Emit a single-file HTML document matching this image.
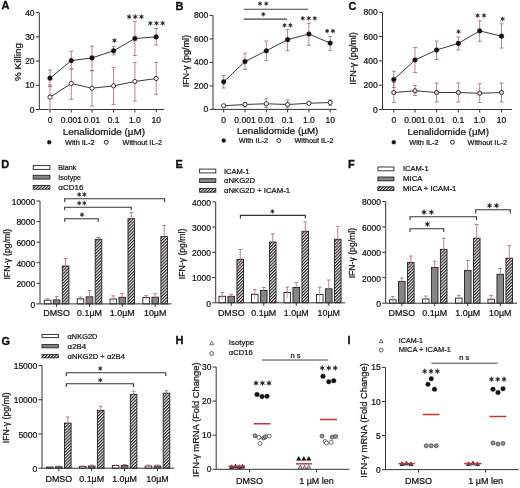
<!DOCTYPE html>
<html><head><meta charset="utf-8"><style>
html,body{margin:0;padding:0;background:#fff;}
svg{display:block;font-family:"Liberation Sans",sans-serif;will-change:transform;}
</style></head><body>
<svg width="520" height="488" viewBox="0 0 520 488">
<defs>
<pattern id="hatch" patternUnits="userSpaceOnUse" width="2.2" height="2.2" patternTransform="rotate(45)">
<rect width="2.2" height="2.2" fill="#fff"/>
<rect x="0" y="0" width="1.12" height="2.2" fill="#1a1a1a"/>
</pattern>
</defs>
<rect width="520" height="488" fill="#fff"/>
<text x="1.40" y="9.30" font-size="11" text-anchor="start" font-weight="bold" fill="#111" stroke="#111" stroke-width="0.35">A</text>
<line x1="39.30" y1="12.70" x2="39.30" y2="109.50" stroke="#333" stroke-width="1.0"/>
<line x1="35.80" y1="109.50" x2="39.30" y2="109.50" stroke="#333" stroke-width="1.0"/>
<text x="34.60" y="112.56" font-size="8.5" text-anchor="end" fill="#111" stroke="#111" stroke-width="0.22">0</text>
<line x1="35.80" y1="85.30" x2="39.30" y2="85.30" stroke="#333" stroke-width="1.0"/>
<text x="34.60" y="88.36" font-size="8.5" text-anchor="end" fill="#111" stroke="#111" stroke-width="0.22">10</text>
<line x1="35.80" y1="61.10" x2="39.30" y2="61.10" stroke="#333" stroke-width="1.0"/>
<text x="34.60" y="64.16" font-size="8.5" text-anchor="end" fill="#111" stroke="#111" stroke-width="0.22">20</text>
<line x1="35.80" y1="36.90" x2="39.30" y2="36.90" stroke="#333" stroke-width="1.0"/>
<text x="34.60" y="39.96" font-size="8.5" text-anchor="end" fill="#111" stroke="#111" stroke-width="0.22">30</text>
<line x1="35.80" y1="12.70" x2="39.30" y2="12.70" stroke="#333" stroke-width="1.0"/>
<text x="34.60" y="15.76" font-size="8.5" text-anchor="end" fill="#111" stroke="#111" stroke-width="0.22">40</text>
<line x1="39.30" y1="109.50" x2="164.00" y2="109.50" stroke="#333" stroke-width="1.0"/>
<line x1="50.00" y1="109.50" x2="50.00" y2="112.50" stroke="#333" stroke-width="1.0"/>
<line x1="71.30" y1="109.50" x2="71.30" y2="112.50" stroke="#333" stroke-width="1.0"/>
<line x1="92.00" y1="109.50" x2="92.00" y2="112.50" stroke="#333" stroke-width="1.0"/>
<line x1="113.60" y1="109.50" x2="113.60" y2="112.50" stroke="#333" stroke-width="1.0"/>
<line x1="134.90" y1="109.50" x2="134.90" y2="112.50" stroke="#333" stroke-width="1.0"/>
<line x1="156.20" y1="109.50" x2="156.20" y2="112.50" stroke="#333" stroke-width="1.0"/>
<text x="50.00" y="122.80" font-size="8.5" text-anchor="middle" fill="#111" stroke="#111" stroke-width="0.22">0</text>
<text x="71.30" y="122.80" font-size="8.5" text-anchor="middle" fill="#111" stroke="#111" stroke-width="0.22">0.001</text>
<text x="92.00" y="122.80" font-size="8.5" text-anchor="middle" fill="#111" stroke="#111" stroke-width="0.22">0.01</text>
<text x="113.60" y="122.80" font-size="8.5" text-anchor="middle" fill="#111" stroke="#111" stroke-width="0.22">0.1</text>
<text x="134.90" y="122.80" font-size="8.5" text-anchor="middle" fill="#111" stroke="#111" stroke-width="0.22">1.0</text>
<text x="156.20" y="122.80" font-size="8.5" text-anchor="middle" fill="#111" stroke="#111" stroke-width="0.22">10</text>
<text x="62.70" y="134.75" font-size="9.3" text-anchor="start" textLength="82.5" lengthAdjust="spacingAndGlyphs" fill="#111" stroke="#111" stroke-width="0.22">Lenalidomide (µM)</text>
<text x="21.40" y="62.00" font-size="9.0" text-anchor="middle" transform="rotate(-90 21.40 62.00)" textLength="38.0" lengthAdjust="spacingAndGlyphs" fill="#111" stroke="#111" stroke-width="0.22">% Killing</text>
<line x1="50.00" y1="85.00" x2="50.00" y2="109.50" stroke="#b56a76" stroke-width="0.85"/>
<line x1="48.00" y1="85.00" x2="52.00" y2="85.00" stroke="#b56a76" stroke-width="0.85"/>
<line x1="48.00" y1="109.50" x2="52.00" y2="109.50" stroke="#b56a76" stroke-width="0.85"/>
<line x1="71.30" y1="69.00" x2="71.30" y2="99.30" stroke="#b56a76" stroke-width="0.85"/>
<line x1="69.30" y1="69.00" x2="73.30" y2="69.00" stroke="#b56a76" stroke-width="0.85"/>
<line x1="69.30" y1="99.30" x2="73.30" y2="99.30" stroke="#b56a76" stroke-width="0.85"/>
<line x1="92.00" y1="70.70" x2="92.00" y2="106.00" stroke="#b56a76" stroke-width="0.85"/>
<line x1="90.00" y1="70.70" x2="94.00" y2="70.70" stroke="#b56a76" stroke-width="0.85"/>
<line x1="90.00" y1="106.00" x2="94.00" y2="106.00" stroke="#b56a76" stroke-width="0.85"/>
<line x1="113.60" y1="67.30" x2="113.60" y2="104.40" stroke="#b56a76" stroke-width="0.85"/>
<line x1="111.60" y1="67.30" x2="115.60" y2="67.30" stroke="#b56a76" stroke-width="0.85"/>
<line x1="111.60" y1="104.40" x2="115.60" y2="104.40" stroke="#b56a76" stroke-width="0.85"/>
<line x1="134.90" y1="62.30" x2="134.90" y2="101.00" stroke="#b56a76" stroke-width="0.85"/>
<line x1="132.90" y1="62.30" x2="136.90" y2="62.30" stroke="#b56a76" stroke-width="0.85"/>
<line x1="132.90" y1="101.00" x2="136.90" y2="101.00" stroke="#b56a76" stroke-width="0.85"/>
<line x1="156.20" y1="62.30" x2="156.20" y2="94.30" stroke="#b56a76" stroke-width="0.85"/>
<line x1="154.20" y1="62.30" x2="158.20" y2="62.30" stroke="#b56a76" stroke-width="0.85"/>
<line x1="154.20" y1="94.30" x2="158.20" y2="94.30" stroke="#b56a76" stroke-width="0.85"/>
<line x1="50.00" y1="70.00" x2="50.00" y2="86.50" stroke="#b56a76" stroke-width="0.85"/>
<line x1="48.00" y1="70.00" x2="52.00" y2="70.00" stroke="#b56a76" stroke-width="0.85"/>
<line x1="48.00" y1="86.50" x2="52.00" y2="86.50" stroke="#b56a76" stroke-width="0.85"/>
<line x1="71.30" y1="51.20" x2="71.30" y2="69.00" stroke="#b56a76" stroke-width="0.85"/>
<line x1="69.30" y1="51.20" x2="73.30" y2="51.20" stroke="#b56a76" stroke-width="0.85"/>
<line x1="69.30" y1="69.00" x2="73.30" y2="69.00" stroke="#b56a76" stroke-width="0.85"/>
<line x1="92.00" y1="46.10" x2="92.00" y2="70.70" stroke="#b56a76" stroke-width="0.85"/>
<line x1="90.00" y1="46.10" x2="94.00" y2="46.10" stroke="#b56a76" stroke-width="0.85"/>
<line x1="90.00" y1="70.70" x2="94.00" y2="70.70" stroke="#b56a76" stroke-width="0.85"/>
<line x1="113.60" y1="46.50" x2="113.60" y2="54.90" stroke="#b56a76" stroke-width="0.85"/>
<line x1="111.60" y1="46.50" x2="115.60" y2="46.50" stroke="#b56a76" stroke-width="0.85"/>
<line x1="111.60" y1="54.90" x2="115.60" y2="54.90" stroke="#b56a76" stroke-width="0.85"/>
<line x1="134.90" y1="21.30" x2="134.90" y2="55.60" stroke="#b56a76" stroke-width="0.85"/>
<line x1="132.90" y1="21.30" x2="136.90" y2="21.30" stroke="#b56a76" stroke-width="0.85"/>
<line x1="132.90" y1="55.60" x2="136.90" y2="55.60" stroke="#b56a76" stroke-width="0.85"/>
<line x1="156.20" y1="28.50" x2="156.20" y2="45.00" stroke="#b56a76" stroke-width="0.85"/>
<line x1="154.20" y1="28.50" x2="158.20" y2="28.50" stroke="#b56a76" stroke-width="0.85"/>
<line x1="154.20" y1="45.00" x2="158.20" y2="45.00" stroke="#b56a76" stroke-width="0.85"/>
<path d="M50.00 97.20 L71.30 83.50 L92.00 88.20 L113.60 85.90 L134.90 81.50 L156.20 78.50" stroke="#222" stroke-width="0.9" fill="none"/>
<path d="M50.00 78.20 L71.30 60.60 L92.00 57.90 L113.60 50.80 L134.90 38.50 L156.20 36.90" stroke="#222" stroke-width="0.9" fill="none"/>
<circle cx="50.00" cy="97.20" r="2.1" fill="#fff" stroke="#222" stroke-width="0.9"/>
<circle cx="71.30" cy="83.50" r="2.1" fill="#fff" stroke="#222" stroke-width="0.9"/>
<circle cx="92.00" cy="88.20" r="2.1" fill="#fff" stroke="#222" stroke-width="0.9"/>
<circle cx="113.60" cy="85.90" r="2.1" fill="#fff" stroke="#222" stroke-width="0.9"/>
<circle cx="134.90" cy="81.50" r="2.1" fill="#fff" stroke="#222" stroke-width="0.9"/>
<circle cx="156.20" cy="78.50" r="2.1" fill="#fff" stroke="#222" stroke-width="0.9"/>
<circle cx="50.00" cy="78.20" r="2.35" fill="#111" stroke="#111" stroke-width="0.4"/>
<circle cx="71.30" cy="60.60" r="2.35" fill="#111" stroke="#111" stroke-width="0.4"/>
<circle cx="92.00" cy="57.90" r="2.35" fill="#111" stroke="#111" stroke-width="0.4"/>
<circle cx="113.60" cy="50.80" r="2.35" fill="#111" stroke="#111" stroke-width="0.4"/>
<circle cx="134.90" cy="38.50" r="2.35" fill="#111" stroke="#111" stroke-width="0.4"/>
<circle cx="156.20" cy="36.90" r="2.35" fill="#111" stroke="#111" stroke-width="0.4"/>
<path d="M114.40 38.02 L113.95 39.73 L112.25 39.26 L113.51 40.50 L112.25 41.74 L113.95 41.27 L114.40 42.98 L114.85 41.27 L116.55 41.74 L115.29 40.50 L116.55 39.26 L114.85 39.73 Z " fill="#1a1a1a" stroke="#1a1a1a" stroke-width="0.35" stroke-linejoin="round"/>
<path d="M129.10 14.27 L128.65 15.98 L126.95 15.51 L128.21 16.75 L126.95 17.99 L128.65 17.52 L129.10 19.23 L129.55 17.52 L131.25 17.99 L129.99 16.75 L131.25 15.51 L129.55 15.98 Z M135.30 14.27 L134.85 15.98 L133.15 15.51 L134.41 16.75 L133.15 17.99 L134.85 17.52 L135.30 19.23 L135.75 17.52 L137.45 17.99 L136.19 16.75 L137.45 15.51 L135.75 15.98 Z M141.50 14.27 L141.05 15.98 L139.35 15.51 L140.61 16.75 L139.35 17.99 L141.05 17.52 L141.50 19.23 L141.95 17.52 L143.65 17.99 L142.39 16.75 L143.65 15.51 L141.95 15.98 Z " fill="#1a1a1a" stroke="#1a1a1a" stroke-width="0.35" stroke-linejoin="round"/>
<path d="M150.30 20.77 L149.85 22.48 L148.15 22.01 L149.41 23.25 L148.15 24.49 L149.85 24.02 L150.30 25.73 L150.75 24.02 L152.45 24.49 L151.19 23.25 L152.45 22.01 L150.75 22.48 Z M156.50 20.77 L156.05 22.48 L154.35 22.01 L155.61 23.25 L154.35 24.49 L156.05 24.02 L156.50 25.73 L156.95 24.02 L158.65 24.49 L157.39 23.25 L158.65 22.01 L156.95 22.48 Z M162.70 20.77 L162.25 22.48 L160.55 22.01 L161.81 23.25 L160.55 24.49 L162.25 24.02 L162.70 25.73 L163.15 24.02 L164.85 24.49 L163.59 23.25 L164.85 22.01 L163.15 22.48 Z " fill="#1a1a1a" stroke="#1a1a1a" stroke-width="0.35" stroke-linejoin="round"/>
<circle cx="49.25" cy="142.25" r="1.9" fill="#111" stroke="#111" stroke-width="0.4"/>
<text x="65.00" y="145.00" font-size="7.3" text-anchor="start" textLength="29.5" lengthAdjust="spacingAndGlyphs" fill="#111" stroke="#111" stroke-width="0.22">With IL-2</text>
<circle cx="106.25" cy="142.25" r="1.95" fill="#fff" stroke="#222" stroke-width="1.0"/>
<text x="122.50" y="145.00" font-size="7.3" text-anchor="start" textLength="39.5" lengthAdjust="spacingAndGlyphs" fill="#111" stroke="#111" stroke-width="0.22">Without IL-2</text>
<text x="175.60" y="9.60" font-size="11" text-anchor="start" font-weight="bold" fill="#111" stroke="#111" stroke-width="0.35">B</text>
<line x1="213.00" y1="15.40" x2="213.00" y2="109.40" stroke="#333" stroke-width="1.0"/>
<line x1="209.50" y1="109.40" x2="213.00" y2="109.40" stroke="#333" stroke-width="1.0"/>
<text x="208.30" y="112.46" font-size="8.5" text-anchor="end" fill="#111" stroke="#111" stroke-width="0.22">0</text>
<line x1="209.50" y1="85.90" x2="213.00" y2="85.90" stroke="#333" stroke-width="1.0"/>
<text x="208.30" y="88.96" font-size="8.5" text-anchor="end" fill="#111" stroke="#111" stroke-width="0.22">200</text>
<line x1="209.50" y1="62.40" x2="213.00" y2="62.40" stroke="#333" stroke-width="1.0"/>
<text x="208.30" y="65.46" font-size="8.5" text-anchor="end" fill="#111" stroke="#111" stroke-width="0.22">400</text>
<line x1="209.50" y1="38.90" x2="213.00" y2="38.90" stroke="#333" stroke-width="1.0"/>
<text x="208.30" y="41.96" font-size="8.5" text-anchor="end" fill="#111" stroke="#111" stroke-width="0.22">600</text>
<line x1="209.50" y1="15.40" x2="213.00" y2="15.40" stroke="#333" stroke-width="1.0"/>
<text x="208.30" y="18.46" font-size="8.5" text-anchor="end" fill="#111" stroke="#111" stroke-width="0.22">800</text>
<line x1="213.00" y1="109.40" x2="336.50" y2="109.40" stroke="#333" stroke-width="1.0"/>
<line x1="223.70" y1="109.40" x2="223.70" y2="112.40" stroke="#333" stroke-width="1.0"/>
<line x1="245.00" y1="109.40" x2="245.00" y2="112.40" stroke="#333" stroke-width="1.0"/>
<line x1="266.30" y1="109.40" x2="266.30" y2="112.40" stroke="#333" stroke-width="1.0"/>
<line x1="287.60" y1="109.40" x2="287.60" y2="112.40" stroke="#333" stroke-width="1.0"/>
<line x1="308.90" y1="109.40" x2="308.90" y2="112.40" stroke="#333" stroke-width="1.0"/>
<line x1="330.20" y1="109.40" x2="330.20" y2="112.40" stroke="#333" stroke-width="1.0"/>
<text x="223.70" y="122.70" font-size="8.5" text-anchor="middle" fill="#111" stroke="#111" stroke-width="0.22">0</text>
<text x="245.00" y="122.70" font-size="8.5" text-anchor="middle" fill="#111" stroke="#111" stroke-width="0.22">0.001</text>
<text x="266.30" y="122.70" font-size="8.5" text-anchor="middle" fill="#111" stroke="#111" stroke-width="0.22">0.01</text>
<text x="287.60" y="122.70" font-size="8.5" text-anchor="middle" fill="#111" stroke="#111" stroke-width="0.22">0.1</text>
<text x="308.90" y="122.70" font-size="8.5" text-anchor="middle" fill="#111" stroke="#111" stroke-width="0.22">1.0</text>
<text x="330.20" y="122.70" font-size="8.5" text-anchor="middle" fill="#111" stroke="#111" stroke-width="0.22">10</text>
<text x="236.90" y="133.50" font-size="9.3" text-anchor="start" textLength="81.5" lengthAdjust="spacingAndGlyphs" fill="#111" stroke="#111" stroke-width="0.22">Lenalidomide (µM)</text>
<text x="189.30" y="61.20" font-size="9.0" text-anchor="middle" transform="rotate(-90 189.30 61.20)" textLength="52.3" lengthAdjust="spacingAndGlyphs" fill="#111" stroke="#111" stroke-width="0.22">IFN-γ (pg/ml)</text>
<line x1="223.70" y1="104.50" x2="223.70" y2="107.00" stroke="#b56a76" stroke-width="0.85"/>
<line x1="221.70" y1="104.50" x2="225.70" y2="104.50" stroke="#b56a76" stroke-width="0.85"/>
<line x1="221.70" y1="107.00" x2="225.70" y2="107.00" stroke="#b56a76" stroke-width="0.85"/>
<line x1="245.00" y1="102.50" x2="245.00" y2="107.00" stroke="#b56a76" stroke-width="0.85"/>
<line x1="243.00" y1="102.50" x2="247.00" y2="102.50" stroke="#b56a76" stroke-width="0.85"/>
<line x1="243.00" y1="107.00" x2="247.00" y2="107.00" stroke="#b56a76" stroke-width="0.85"/>
<line x1="266.30" y1="98.75" x2="266.30" y2="107.50" stroke="#b56a76" stroke-width="0.85"/>
<line x1="264.30" y1="98.75" x2="268.30" y2="98.75" stroke="#b56a76" stroke-width="0.85"/>
<line x1="264.30" y1="107.50" x2="268.30" y2="107.50" stroke="#b56a76" stroke-width="0.85"/>
<line x1="287.60" y1="100.00" x2="287.60" y2="108.00" stroke="#b56a76" stroke-width="0.85"/>
<line x1="285.60" y1="100.00" x2="289.60" y2="100.00" stroke="#b56a76" stroke-width="0.85"/>
<line x1="285.60" y1="108.00" x2="289.60" y2="108.00" stroke="#b56a76" stroke-width="0.85"/>
<line x1="308.90" y1="102.00" x2="308.90" y2="104.50" stroke="#b56a76" stroke-width="0.85"/>
<line x1="306.90" y1="102.00" x2="310.90" y2="102.00" stroke="#b56a76" stroke-width="0.85"/>
<line x1="306.90" y1="104.50" x2="310.90" y2="104.50" stroke="#b56a76" stroke-width="0.85"/>
<line x1="330.20" y1="100.00" x2="330.20" y2="105.50" stroke="#b56a76" stroke-width="0.85"/>
<line x1="328.20" y1="100.00" x2="332.20" y2="100.00" stroke="#b56a76" stroke-width="0.85"/>
<line x1="328.20" y1="105.50" x2="332.20" y2="105.50" stroke="#b56a76" stroke-width="0.85"/>
<line x1="223.70" y1="75.50" x2="223.70" y2="88.00" stroke="#b56a76" stroke-width="0.85"/>
<line x1="221.70" y1="75.50" x2="225.70" y2="75.50" stroke="#b56a76" stroke-width="0.85"/>
<line x1="221.70" y1="88.00" x2="225.70" y2="88.00" stroke="#b56a76" stroke-width="0.85"/>
<line x1="245.00" y1="53.20" x2="245.00" y2="69.50" stroke="#b56a76" stroke-width="0.85"/>
<line x1="243.00" y1="53.20" x2="247.00" y2="53.20" stroke="#b56a76" stroke-width="0.85"/>
<line x1="243.00" y1="69.50" x2="247.00" y2="69.50" stroke="#b56a76" stroke-width="0.85"/>
<line x1="266.30" y1="41.00" x2="266.30" y2="60.60" stroke="#b56a76" stroke-width="0.85"/>
<line x1="264.30" y1="41.00" x2="268.30" y2="41.00" stroke="#b56a76" stroke-width="0.85"/>
<line x1="264.30" y1="60.60" x2="268.30" y2="60.60" stroke="#b56a76" stroke-width="0.85"/>
<line x1="287.60" y1="29.60" x2="287.60" y2="50.60" stroke="#b56a76" stroke-width="0.85"/>
<line x1="285.60" y1="29.60" x2="289.60" y2="29.60" stroke="#b56a76" stroke-width="0.85"/>
<line x1="285.60" y1="50.60" x2="289.60" y2="50.60" stroke="#b56a76" stroke-width="0.85"/>
<line x1="308.90" y1="23.30" x2="308.90" y2="45.30" stroke="#b56a76" stroke-width="0.85"/>
<line x1="306.90" y1="23.30" x2="310.90" y2="23.30" stroke="#b56a76" stroke-width="0.85"/>
<line x1="306.90" y1="45.30" x2="310.90" y2="45.30" stroke="#b56a76" stroke-width="0.85"/>
<line x1="330.20" y1="36.40" x2="330.20" y2="50.60" stroke="#b56a76" stroke-width="0.85"/>
<line x1="328.20" y1="36.40" x2="332.20" y2="36.40" stroke="#b56a76" stroke-width="0.85"/>
<line x1="328.20" y1="50.60" x2="332.20" y2="50.60" stroke="#b56a76" stroke-width="0.85"/>
<path d="M223.70 105.75 L245.00 104.50 L266.30 103.75 L287.60 104.50 L308.90 103.25 L330.20 102.50" stroke="#222" stroke-width="0.9" fill="none"/>
<path d="M223.70 81.80 L245.00 61.60 L266.30 50.80 L287.60 39.70 L308.90 34.00 L330.20 43.10" stroke="#222" stroke-width="0.9" fill="none"/>
<circle cx="223.70" cy="105.75" r="2.1" fill="#fff" stroke="#222" stroke-width="0.9"/>
<circle cx="245.00" cy="104.50" r="2.1" fill="#fff" stroke="#222" stroke-width="0.9"/>
<circle cx="266.30" cy="103.75" r="2.1" fill="#fff" stroke="#222" stroke-width="0.9"/>
<circle cx="287.60" cy="104.50" r="2.1" fill="#fff" stroke="#222" stroke-width="0.9"/>
<circle cx="308.90" cy="103.25" r="2.1" fill="#fff" stroke="#222" stroke-width="0.9"/>
<circle cx="330.20" cy="102.50" r="2.1" fill="#fff" stroke="#222" stroke-width="0.9"/>
<circle cx="223.70" cy="81.80" r="2.35" fill="#111" stroke="#111" stroke-width="0.4"/>
<circle cx="245.00" cy="61.60" r="2.35" fill="#111" stroke="#111" stroke-width="0.4"/>
<circle cx="266.30" cy="50.80" r="2.35" fill="#111" stroke="#111" stroke-width="0.4"/>
<circle cx="287.60" cy="39.70" r="2.35" fill="#111" stroke="#111" stroke-width="0.4"/>
<circle cx="308.90" cy="34.00" r="2.35" fill="#111" stroke="#111" stroke-width="0.4"/>
<circle cx="330.20" cy="43.10" r="2.35" fill="#111" stroke="#111" stroke-width="0.4"/>
<path d="M284.60 22.98 L284.18 24.58 L282.59 24.14 L283.76 25.30 L282.59 26.46 L284.18 26.02 L284.60 27.62 L285.02 26.02 L286.61 26.46 L285.44 25.30 L286.61 24.14 L285.02 24.58 Z M290.40 22.98 L289.98 24.58 L288.39 24.14 L289.56 25.30 L288.39 26.46 L289.98 26.02 L290.40 27.62 L290.82 26.02 L292.41 26.46 L291.24 25.30 L292.41 24.14 L290.82 24.58 Z " fill="#1a1a1a" stroke="#1a1a1a" stroke-width="0.35" stroke-linejoin="round"/>
<path d="M302.80 15.98 L302.38 17.58 L300.79 17.14 L301.96 18.30 L300.79 19.46 L302.38 19.02 L302.80 20.62 L303.22 19.02 L304.81 19.46 L303.64 18.30 L304.81 17.14 L303.22 17.58 Z M308.80 15.98 L308.38 17.58 L306.79 17.14 L307.96 18.30 L306.79 19.46 L308.38 19.02 L308.80 20.62 L309.22 19.02 L310.81 19.46 L309.64 18.30 L310.81 17.14 L309.22 17.58 Z M314.80 15.98 L314.38 17.58 L312.79 17.14 L313.96 18.30 L312.79 19.46 L314.38 19.02 L314.80 20.62 L315.22 19.02 L316.81 19.46 L315.64 18.30 L316.81 17.14 L315.22 17.58 Z " fill="#1a1a1a" stroke="#1a1a1a" stroke-width="0.35" stroke-linejoin="round"/>
<path d="M327.10 28.68 L326.68 30.28 L325.09 29.84 L326.26 31.00 L325.09 32.16 L326.68 31.72 L327.10 33.32 L327.52 31.72 L329.11 32.16 L327.94 31.00 L329.11 29.84 L327.52 30.28 Z M332.90 28.68 L332.48 30.28 L330.89 29.84 L332.06 31.00 L330.89 32.16 L332.48 31.72 L332.90 33.32 L333.32 31.72 L334.91 32.16 L333.74 31.00 L334.91 29.84 L333.32 30.28 Z " fill="#1a1a1a" stroke="#1a1a1a" stroke-width="0.35" stroke-linejoin="round"/>
<circle cx="223.75" cy="140.50" r="1.9" fill="#111" stroke="#111" stroke-width="0.4"/>
<text x="238.75" y="143.00" font-size="7.3" text-anchor="start" textLength="29.25" lengthAdjust="spacingAndGlyphs" fill="#111" stroke="#111" stroke-width="0.22">With IL-2</text>
<circle cx="278.75" cy="140.50" r="1.95" fill="#fff" stroke="#222" stroke-width="1.0"/>
<text x="294.50" y="143.00" font-size="7.3" text-anchor="start" textLength="39.0" lengthAdjust="spacingAndGlyphs" fill="#111" stroke="#111" stroke-width="0.22">Without IL-2</text>
<text x="348.50" y="9.80" font-size="11" text-anchor="start" font-weight="bold" fill="#111" stroke="#111" stroke-width="0.35">C</text>
<line x1="382.50" y1="12.30" x2="382.50" y2="109.50" stroke="#333" stroke-width="1.0"/>
<line x1="379.00" y1="109.50" x2="382.50" y2="109.50" stroke="#333" stroke-width="1.0"/>
<text x="377.80" y="112.56" font-size="8.5" text-anchor="end" fill="#111" stroke="#111" stroke-width="0.22">0</text>
<line x1="379.00" y1="85.20" x2="382.50" y2="85.20" stroke="#333" stroke-width="1.0"/>
<text x="377.80" y="88.26" font-size="8.5" text-anchor="end" fill="#111" stroke="#111" stroke-width="0.22">200</text>
<line x1="379.00" y1="60.90" x2="382.50" y2="60.90" stroke="#333" stroke-width="1.0"/>
<text x="377.80" y="63.96" font-size="8.5" text-anchor="end" fill="#111" stroke="#111" stroke-width="0.22">400</text>
<line x1="379.00" y1="36.60" x2="382.50" y2="36.60" stroke="#333" stroke-width="1.0"/>
<text x="377.80" y="39.66" font-size="8.5" text-anchor="end" fill="#111" stroke="#111" stroke-width="0.22">600</text>
<line x1="379.00" y1="12.30" x2="382.50" y2="12.30" stroke="#333" stroke-width="1.0"/>
<text x="377.80" y="15.36" font-size="8.5" text-anchor="end" fill="#111" stroke="#111" stroke-width="0.22">800</text>
<line x1="382.50" y1="109.50" x2="512.00" y2="109.50" stroke="#333" stroke-width="1.0"/>
<line x1="393.80" y1="109.50" x2="393.80" y2="112.50" stroke="#333" stroke-width="1.0"/>
<line x1="415.00" y1="109.50" x2="415.00" y2="112.50" stroke="#333" stroke-width="1.0"/>
<line x1="436.60" y1="109.50" x2="436.60" y2="112.50" stroke="#333" stroke-width="1.0"/>
<line x1="458.30" y1="109.50" x2="458.30" y2="112.50" stroke="#333" stroke-width="1.0"/>
<line x1="479.70" y1="109.50" x2="479.70" y2="112.50" stroke="#333" stroke-width="1.0"/>
<line x1="501.50" y1="109.50" x2="501.50" y2="112.50" stroke="#333" stroke-width="1.0"/>
<text x="393.80" y="122.80" font-size="8.5" text-anchor="middle" fill="#111" stroke="#111" stroke-width="0.22">0</text>
<text x="415.00" y="122.80" font-size="8.5" text-anchor="middle" fill="#111" stroke="#111" stroke-width="0.22">0.001</text>
<text x="436.60" y="122.80" font-size="8.5" text-anchor="middle" fill="#111" stroke="#111" stroke-width="0.22">0.01</text>
<text x="458.30" y="122.80" font-size="8.5" text-anchor="middle" fill="#111" stroke="#111" stroke-width="0.22">0.1</text>
<text x="479.70" y="122.80" font-size="8.5" text-anchor="middle" fill="#111" stroke="#111" stroke-width="0.22">1.0</text>
<text x="501.50" y="122.80" font-size="8.5" text-anchor="middle" fill="#111" stroke="#111" stroke-width="0.22">10</text>
<text x="407.50" y="134.75" font-size="9.3" text-anchor="start" textLength="81.5" lengthAdjust="spacingAndGlyphs" fill="#111" stroke="#111" stroke-width="0.22">Lenalidomide (µM)</text>
<text x="356.10" y="58.50" font-size="9.0" text-anchor="middle" transform="rotate(-90 356.10 58.50)" textLength="52.5" lengthAdjust="spacingAndGlyphs" fill="#111" stroke="#111" stroke-width="0.22">IFN-γ (pg/ml)</text>
<line x1="393.80" y1="82.50" x2="393.80" y2="102.50" stroke="#b56a76" stroke-width="0.85"/>
<line x1="391.80" y1="82.50" x2="395.80" y2="82.50" stroke="#b56a76" stroke-width="0.85"/>
<line x1="391.80" y1="102.50" x2="395.80" y2="102.50" stroke="#b56a76" stroke-width="0.85"/>
<line x1="415.00" y1="85.50" x2="415.00" y2="95.50" stroke="#b56a76" stroke-width="0.85"/>
<line x1="413.00" y1="85.50" x2="417.00" y2="85.50" stroke="#b56a76" stroke-width="0.85"/>
<line x1="413.00" y1="95.50" x2="417.00" y2="95.50" stroke="#b56a76" stroke-width="0.85"/>
<line x1="436.60" y1="83.00" x2="436.60" y2="102.00" stroke="#b56a76" stroke-width="0.85"/>
<line x1="434.60" y1="83.00" x2="438.60" y2="83.00" stroke="#b56a76" stroke-width="0.85"/>
<line x1="434.60" y1="102.00" x2="438.60" y2="102.00" stroke="#b56a76" stroke-width="0.85"/>
<line x1="458.30" y1="83.00" x2="458.30" y2="102.00" stroke="#b56a76" stroke-width="0.85"/>
<line x1="456.30" y1="83.00" x2="460.30" y2="83.00" stroke="#b56a76" stroke-width="0.85"/>
<line x1="456.30" y1="102.00" x2="460.30" y2="102.00" stroke="#b56a76" stroke-width="0.85"/>
<line x1="479.70" y1="83.75" x2="479.70" y2="102.50" stroke="#b56a76" stroke-width="0.85"/>
<line x1="477.70" y1="83.75" x2="481.70" y2="83.75" stroke="#b56a76" stroke-width="0.85"/>
<line x1="477.70" y1="102.50" x2="481.70" y2="102.50" stroke="#b56a76" stroke-width="0.85"/>
<line x1="501.50" y1="83.00" x2="501.50" y2="102.00" stroke="#b56a76" stroke-width="0.85"/>
<line x1="499.50" y1="83.00" x2="503.50" y2="83.00" stroke="#b56a76" stroke-width="0.85"/>
<line x1="499.50" y1="102.00" x2="503.50" y2="102.00" stroke="#b56a76" stroke-width="0.85"/>
<line x1="393.80" y1="71.25" x2="393.80" y2="87.50" stroke="#b56a76" stroke-width="0.85"/>
<line x1="391.80" y1="71.25" x2="395.80" y2="71.25" stroke="#b56a76" stroke-width="0.85"/>
<line x1="391.80" y1="87.50" x2="395.80" y2="87.50" stroke="#b56a76" stroke-width="0.85"/>
<line x1="415.00" y1="47.50" x2="415.00" y2="72.50" stroke="#b56a76" stroke-width="0.85"/>
<line x1="413.00" y1="47.50" x2="417.00" y2="47.50" stroke="#b56a76" stroke-width="0.85"/>
<line x1="413.00" y1="72.50" x2="417.00" y2="72.50" stroke="#b56a76" stroke-width="0.85"/>
<line x1="436.60" y1="41.00" x2="436.60" y2="59.50" stroke="#b56a76" stroke-width="0.85"/>
<line x1="434.60" y1="41.00" x2="438.60" y2="41.00" stroke="#b56a76" stroke-width="0.85"/>
<line x1="434.60" y1="59.50" x2="438.60" y2="59.50" stroke="#b56a76" stroke-width="0.85"/>
<line x1="458.30" y1="36.90" x2="458.30" y2="50.00" stroke="#b56a76" stroke-width="0.85"/>
<line x1="456.30" y1="36.90" x2="460.30" y2="36.90" stroke="#b56a76" stroke-width="0.85"/>
<line x1="456.30" y1="50.00" x2="460.30" y2="50.00" stroke="#b56a76" stroke-width="0.85"/>
<line x1="479.70" y1="20.90" x2="479.70" y2="41.25" stroke="#b56a76" stroke-width="0.85"/>
<line x1="477.70" y1="20.90" x2="481.70" y2="20.90" stroke="#b56a76" stroke-width="0.85"/>
<line x1="477.70" y1="41.25" x2="481.70" y2="41.25" stroke="#b56a76" stroke-width="0.85"/>
<line x1="501.50" y1="23.80" x2="501.50" y2="48.00" stroke="#b56a76" stroke-width="0.85"/>
<line x1="499.50" y1="23.80" x2="503.50" y2="23.80" stroke="#b56a76" stroke-width="0.85"/>
<line x1="499.50" y1="48.00" x2="503.50" y2="48.00" stroke="#b56a76" stroke-width="0.85"/>
<path d="M393.80 92.50 L415.00 90.75 L436.60 92.50 L458.30 92.50 L479.70 93.25 L501.50 92.50" stroke="#222" stroke-width="0.9" fill="none"/>
<path d="M393.80 79.50 L415.00 60.00 L436.60 50.00 L458.30 43.40 L479.70 30.90 L501.50 36.20" stroke="#222" stroke-width="0.9" fill="none"/>
<circle cx="393.80" cy="92.50" r="2.1" fill="#e2d0d3" stroke="#222" stroke-width="0.9"/>
<circle cx="415.00" cy="90.75" r="2.1" fill="#e2d0d3" stroke="#222" stroke-width="0.9"/>
<circle cx="436.60" cy="92.50" r="2.1" fill="#e2d0d3" stroke="#222" stroke-width="0.9"/>
<circle cx="458.30" cy="92.50" r="2.1" fill="#e2d0d3" stroke="#222" stroke-width="0.9"/>
<circle cx="479.70" cy="93.25" r="2.1" fill="#e2d0d3" stroke="#222" stroke-width="0.9"/>
<circle cx="501.50" cy="92.50" r="2.1" fill="#e2d0d3" stroke="#222" stroke-width="0.9"/>
<circle cx="393.80" cy="79.50" r="2.35" fill="#111" stroke="#111" stroke-width="0.4"/>
<circle cx="415.00" cy="60.00" r="2.35" fill="#111" stroke="#111" stroke-width="0.4"/>
<circle cx="436.60" cy="50.00" r="2.35" fill="#111" stroke="#111" stroke-width="0.4"/>
<circle cx="458.30" cy="43.40" r="2.35" fill="#111" stroke="#111" stroke-width="0.4"/>
<circle cx="479.70" cy="30.90" r="2.35" fill="#111" stroke="#111" stroke-width="0.4"/>
<circle cx="501.50" cy="36.20" r="2.35" fill="#111" stroke="#111" stroke-width="0.4"/>
<path d="M458.50 29.28 L458.08 30.88 L456.49 30.44 L457.66 31.60 L456.49 32.76 L458.08 32.32 L458.50 33.92 L458.92 32.32 L460.51 32.76 L459.34 31.60 L460.51 30.44 L458.92 30.88 Z " fill="#1a1a1a" stroke="#1a1a1a" stroke-width="0.35" stroke-linejoin="round"/>
<path d="M477.60 13.18 L477.18 14.78 L475.59 14.34 L476.76 15.50 L475.59 16.66 L477.18 16.22 L477.60 17.82 L478.02 16.22 L479.61 16.66 L478.44 15.50 L479.61 14.34 L478.02 14.78 Z M484.00 13.18 L483.58 14.78 L481.99 14.34 L483.16 15.50 L481.99 16.66 L483.58 16.22 L484.00 17.82 L484.42 16.22 L486.01 16.66 L484.84 15.50 L486.01 14.34 L484.42 14.78 Z " fill="#1a1a1a" stroke="#1a1a1a" stroke-width="0.35" stroke-linejoin="round"/>
<path d="M502.60 16.58 L502.18 18.18 L500.59 17.74 L501.76 18.90 L500.59 20.06 L502.18 19.62 L502.60 21.22 L503.02 19.62 L504.61 20.06 L503.44 18.90 L504.61 17.74 L503.02 18.18 Z " fill="#1a1a1a" stroke="#1a1a1a" stroke-width="0.35" stroke-linejoin="round"/>
<circle cx="393.75" cy="142.25" r="1.9" fill="#111" stroke="#111" stroke-width="0.4"/>
<text x="409.25" y="145.00" font-size="7.3" text-anchor="start" textLength="29.25" lengthAdjust="spacingAndGlyphs" fill="#111" stroke="#111" stroke-width="0.22">With IL-2</text>
<circle cx="452.50" cy="142.25" r="1.95" fill="#fff" stroke="#222" stroke-width="1.0"/>
<text x="467.50" y="145.00" font-size="7.3" text-anchor="start" textLength="39.5" lengthAdjust="spacingAndGlyphs" fill="#111" stroke="#111" stroke-width="0.22">Without IL-2</text>
<line x1="243.80" y1="9.20" x2="308.10" y2="9.20" stroke="#444" stroke-width="1.1"/>
<path d="M260.00 1.33 L259.59 2.89 L258.04 2.47 L259.18 3.60 L258.04 4.73 L259.59 4.31 L260.00 5.87 L260.41 4.31 L261.96 4.73 L260.82 3.60 L261.96 2.47 L260.41 2.89 Z M266.20 1.33 L265.79 2.89 L264.24 2.47 L265.38 3.60 L264.24 4.73 L265.79 4.31 L266.20 5.87 L266.61 4.31 L268.16 4.73 L267.02 3.60 L268.16 2.47 L266.61 2.89 Z " fill="#1a1a1a" stroke="#1a1a1a" stroke-width="0.35" stroke-linejoin="round"/>
<line x1="243.80" y1="19.10" x2="286.90" y2="19.10" stroke="#444" stroke-width="1.1"/>
<path d="M263.30 11.93 L262.89 13.49 L261.34 13.07 L262.48 14.20 L261.34 15.33 L262.89 14.91 L263.30 16.47 L263.71 14.91 L265.26 15.33 L264.12 14.20 L265.26 13.07 L263.71 13.49 Z " fill="#1a1a1a" stroke="#1a1a1a" stroke-width="0.35" stroke-linejoin="round"/>
<text x="1.20" y="167.80" font-size="11" text-anchor="start" font-weight="bold" fill="#111" stroke="#111" stroke-width="0.35">D</text>
<line x1="40.00" y1="201.00" x2="40.00" y2="303.90" stroke="#333" stroke-width="1.0"/>
<line x1="36.50" y1="303.90" x2="40.00" y2="303.90" stroke="#333" stroke-width="1.0"/>
<text x="35.30" y="307.66" font-size="8.5" text-anchor="end" fill="#111" stroke="#111" stroke-width="0.22">0</text>
<line x1="36.50" y1="283.32" x2="40.00" y2="283.32" stroke="#333" stroke-width="1.0"/>
<text x="35.30" y="287.08" font-size="8.5" text-anchor="end" fill="#111" stroke="#111" stroke-width="0.22">2000</text>
<line x1="36.50" y1="262.74" x2="40.00" y2="262.74" stroke="#333" stroke-width="1.0"/>
<text x="35.30" y="266.50" font-size="8.5" text-anchor="end" fill="#111" stroke="#111" stroke-width="0.22">4000</text>
<line x1="36.50" y1="242.16" x2="40.00" y2="242.16" stroke="#333" stroke-width="1.0"/>
<text x="35.30" y="245.92" font-size="8.5" text-anchor="end" fill="#111" stroke="#111" stroke-width="0.22">6000</text>
<line x1="36.50" y1="221.58" x2="40.00" y2="221.58" stroke="#333" stroke-width="1.0"/>
<text x="35.30" y="225.34" font-size="8.5" text-anchor="end" fill="#111" stroke="#111" stroke-width="0.22">8000</text>
<line x1="36.50" y1="201.00" x2="40.00" y2="201.00" stroke="#333" stroke-width="1.0"/>
<text x="35.30" y="204.76" font-size="8.5" text-anchor="end" fill="#111" stroke="#111" stroke-width="0.22">10000</text>
<text x="9.80" y="254.20" font-size="9.0" text-anchor="middle" transform="rotate(-90 9.80 254.20)" textLength="50.8" lengthAdjust="spacingAndGlyphs" fill="#111" stroke="#111" stroke-width="0.22">IFN-γ (pg/ml)</text>
<rect x="44.30" y="300.20" width="6.60" height="3.70" fill="#fff" stroke="#222" stroke-width="0.9"/>
<rect x="53.30" y="299.90" width="6.60" height="4.00" fill="#858585" stroke="#222" stroke-width="0.9"/>
<rect x="62.30" y="266.00" width="6.60" height="37.90" fill="url(#hatch)" stroke="#222" stroke-width="0.9"/>
<rect x="77.20" y="298.80" width="6.60" height="5.10" fill="#fff" stroke="#222" stroke-width="0.9"/>
<rect x="86.20" y="296.80" width="6.60" height="7.10" fill="#858585" stroke="#222" stroke-width="0.9"/>
<rect x="95.20" y="239.30" width="6.60" height="64.60" fill="url(#hatch)" stroke="#222" stroke-width="0.9"/>
<rect x="110.00" y="299.00" width="6.60" height="4.90" fill="#fff" stroke="#222" stroke-width="0.9"/>
<rect x="119.00" y="297.30" width="6.60" height="6.60" fill="#858585" stroke="#222" stroke-width="0.9"/>
<rect x="128.00" y="218.70" width="6.60" height="85.20" fill="url(#hatch)" stroke="#222" stroke-width="0.9"/>
<rect x="142.90" y="297.40" width="6.60" height="6.50" fill="#fff" stroke="#222" stroke-width="0.9"/>
<rect x="151.90" y="297.20" width="6.60" height="6.70" fill="#858585" stroke="#222" stroke-width="0.9"/>
<rect x="160.90" y="236.60" width="6.60" height="67.30" fill="url(#hatch)" stroke="#222" stroke-width="0.9"/>
<line x1="47.60" y1="298.80" x2="47.60" y2="300.20" stroke="#b56a76" stroke-width="0.85"/>
<line x1="47.60" y1="300.20" x2="47.60" y2="301.60" stroke="#b56a76" stroke-width="0.85" opacity="0.7"/>
<line x1="45.70" y1="298.80" x2="49.50" y2="298.80" stroke="#b56a76" stroke-width="0.85"/>
<line x1="56.60" y1="296.40" x2="56.60" y2="299.90" stroke="#b56a76" stroke-width="0.85"/>
<line x1="56.60" y1="299.90" x2="56.60" y2="303.40" stroke="#b56a76" stroke-width="0.85" opacity="0.7"/>
<line x1="54.70" y1="296.40" x2="58.50" y2="296.40" stroke="#b56a76" stroke-width="0.85"/>
<line x1="65.60" y1="258.60" x2="65.60" y2="266.00" stroke="#b56a76" stroke-width="0.85"/>
<line x1="65.60" y1="266.00" x2="65.60" y2="273.40" stroke="#b56a76" stroke-width="0.85" opacity="0.7"/>
<line x1="63.70" y1="258.60" x2="67.50" y2="258.60" stroke="#b56a76" stroke-width="0.85"/>
<line x1="80.50" y1="297.00" x2="80.50" y2="298.80" stroke="#b56a76" stroke-width="0.85"/>
<line x1="80.50" y1="298.80" x2="80.50" y2="300.60" stroke="#b56a76" stroke-width="0.85" opacity="0.7"/>
<line x1="78.60" y1="297.00" x2="82.40" y2="297.00" stroke="#b56a76" stroke-width="0.85"/>
<line x1="89.50" y1="290.50" x2="89.50" y2="296.80" stroke="#b56a76" stroke-width="0.85"/>
<line x1="89.50" y1="296.80" x2="89.50" y2="303.10" stroke="#b56a76" stroke-width="0.85" opacity="0.7"/>
<line x1="87.60" y1="290.50" x2="91.40" y2="290.50" stroke="#b56a76" stroke-width="0.85"/>
<line x1="98.50" y1="237.50" x2="98.50" y2="239.30" stroke="#b56a76" stroke-width="0.85"/>
<line x1="98.50" y1="239.30" x2="98.50" y2="241.10" stroke="#b56a76" stroke-width="0.85" opacity="0.7"/>
<line x1="96.60" y1="237.50" x2="100.40" y2="237.50" stroke="#b56a76" stroke-width="0.85"/>
<line x1="113.30" y1="295.80" x2="113.30" y2="299.00" stroke="#b56a76" stroke-width="0.85"/>
<line x1="113.30" y1="299.00" x2="113.30" y2="302.20" stroke="#b56a76" stroke-width="0.85" opacity="0.7"/>
<line x1="111.40" y1="295.80" x2="115.20" y2="295.80" stroke="#b56a76" stroke-width="0.85"/>
<line x1="122.30" y1="293.50" x2="122.30" y2="297.30" stroke="#b56a76" stroke-width="0.85"/>
<line x1="122.30" y1="297.30" x2="122.30" y2="301.10" stroke="#b56a76" stroke-width="0.85" opacity="0.7"/>
<line x1="120.40" y1="293.50" x2="124.20" y2="293.50" stroke="#b56a76" stroke-width="0.85"/>
<line x1="131.30" y1="212.50" x2="131.30" y2="218.70" stroke="#b56a76" stroke-width="0.85"/>
<line x1="131.30" y1="218.70" x2="131.30" y2="224.90" stroke="#b56a76" stroke-width="0.85" opacity="0.7"/>
<line x1="129.40" y1="212.50" x2="133.20" y2="212.50" stroke="#b56a76" stroke-width="0.85"/>
<line x1="146.20" y1="295.50" x2="146.20" y2="297.40" stroke="#b56a76" stroke-width="0.85"/>
<line x1="146.20" y1="297.40" x2="146.20" y2="299.30" stroke="#b56a76" stroke-width="0.85" opacity="0.7"/>
<line x1="144.30" y1="295.50" x2="148.10" y2="295.50" stroke="#b56a76" stroke-width="0.85"/>
<line x1="155.20" y1="293.70" x2="155.20" y2="297.20" stroke="#b56a76" stroke-width="0.85"/>
<line x1="155.20" y1="297.20" x2="155.20" y2="300.70" stroke="#b56a76" stroke-width="0.85" opacity="0.7"/>
<line x1="153.30" y1="293.70" x2="157.10" y2="293.70" stroke="#b56a76" stroke-width="0.85"/>
<line x1="164.20" y1="225.60" x2="164.20" y2="236.60" stroke="#b56a76" stroke-width="0.85"/>
<line x1="164.20" y1="236.60" x2="164.20" y2="247.60" stroke="#b56a76" stroke-width="0.85" opacity="0.7"/>
<line x1="162.30" y1="225.60" x2="166.10" y2="225.60" stroke="#b56a76" stroke-width="0.85"/>
<line x1="40.00" y1="303.90" x2="171.50" y2="303.90" stroke="#333" stroke-width="1.0"/>
<line x1="56.60" y1="303.90" x2="56.60" y2="306.90" stroke="#333" stroke-width="1.0"/>
<line x1="89.50" y1="303.90" x2="89.50" y2="306.90" stroke="#333" stroke-width="1.0"/>
<line x1="122.30" y1="303.90" x2="122.30" y2="306.90" stroke="#333" stroke-width="1.0"/>
<line x1="155.20" y1="303.90" x2="155.20" y2="306.90" stroke="#333" stroke-width="1.0"/>
<text x="56.60" y="316.30" font-size="8.9" text-anchor="middle" fill="#111" stroke="#111" stroke-width="0.22">DMSO</text>
<text x="89.50" y="316.30" font-size="8.9" text-anchor="middle" fill="#111" stroke="#111" stroke-width="0.22">0.1µM</text>
<text x="122.30" y="316.30" font-size="8.9" text-anchor="middle" fill="#111" stroke="#111" stroke-width="0.22">1.0µM</text>
<text x="155.20" y="316.30" font-size="8.9" text-anchor="middle" fill="#111" stroke="#111" stroke-width="0.22">10µM</text>
<rect x="33.20" y="165.60" width="16.70" height="3.80" fill="#fff" stroke="#222" stroke-width="0.9"/>
<text x="58.30" y="170.00" font-size="7.6" text-anchor="start" textLength="18.0" lengthAdjust="spacingAndGlyphs" fill="#111" stroke="#111" stroke-width="0.22">Blank</text>
<rect x="33.20" y="175.30" width="16.70" height="3.80" fill="#858585" stroke="#222" stroke-width="0.9"/>
<text x="58.30" y="179.70" font-size="7.6" text-anchor="start" textLength="22.7" lengthAdjust="spacingAndGlyphs" fill="#111" stroke="#111" stroke-width="0.22">Isotype</text>
<rect x="33.20" y="185.40" width="16.70" height="3.80" fill="url(#hatch)" stroke="#222" stroke-width="0.9"/>
<text x="58.30" y="189.80" font-size="7.6" text-anchor="start" textLength="25.1" lengthAdjust="spacingAndGlyphs" fill="#111" stroke="#111" stroke-width="0.22">αCD16</text>
<path d="M64.70 202.00 V198.80 H164.60 V202.00" stroke="#333" stroke-width="1.1" fill="none"/>
<path d="M64.70 210.30 V207.30 H131.20 V210.30" stroke="#333" stroke-width="1.1" fill="none"/>
<path d="M64.70 221.80 V218.80 H98.20 V221.80" stroke="#333" stroke-width="1.1" fill="none"/>
<path d="M79.15 192.18 L78.73 193.78 L77.14 193.34 L78.31 194.50 L77.14 195.66 L78.73 195.22 L79.15 196.82 L79.57 195.22 L81.16 195.66 L79.99 194.50 L81.16 193.34 L79.57 193.78 Z M84.35 192.18 L83.93 193.78 L82.34 193.34 L83.51 194.50 L82.34 195.66 L83.93 195.22 L84.35 196.82 L84.77 195.22 L86.36 195.66 L85.19 194.50 L86.36 193.34 L84.77 193.78 Z " fill="#1a1a1a" stroke="#1a1a1a" stroke-width="0.35" stroke-linejoin="round"/>
<path d="M79.15 200.78 L78.73 202.38 L77.14 201.94 L78.31 203.10 L77.14 204.26 L78.73 203.82 L79.15 205.42 L79.57 203.82 L81.16 204.26 L79.99 203.10 L81.16 201.94 L79.57 202.38 Z M84.35 200.78 L83.93 202.38 L82.34 201.94 L83.51 203.10 L82.34 204.26 L83.93 203.82 L84.35 205.42 L84.77 203.82 L86.36 204.26 L85.19 203.10 L86.36 201.94 L84.77 202.38 Z " fill="#1a1a1a" stroke="#1a1a1a" stroke-width="0.35" stroke-linejoin="round"/>
<path d="M82.00 212.38 L81.58 213.98 L79.99 213.54 L81.16 214.70 L79.99 215.86 L81.58 215.42 L82.00 217.02 L82.42 215.42 L84.01 215.86 L82.84 214.70 L84.01 213.54 L82.42 213.98 Z " fill="#1a1a1a" stroke="#1a1a1a" stroke-width="0.35" stroke-linejoin="round"/>
<text x="175.40" y="167.70" font-size="11" text-anchor="start" font-weight="bold" fill="#111" stroke="#111" stroke-width="0.35">E</text>
<line x1="215.70" y1="201.90" x2="215.70" y2="302.80" stroke="#333" stroke-width="1.0"/>
<line x1="212.20" y1="302.80" x2="215.70" y2="302.80" stroke="#333" stroke-width="1.0"/>
<text x="211.00" y="306.56" font-size="8.5" text-anchor="end" fill="#111" stroke="#111" stroke-width="0.22">0</text>
<line x1="212.20" y1="277.57" x2="215.70" y2="277.57" stroke="#333" stroke-width="1.0"/>
<text x="211.00" y="281.33" font-size="8.5" text-anchor="end" fill="#111" stroke="#111" stroke-width="0.22">1000</text>
<line x1="212.20" y1="252.35" x2="215.70" y2="252.35" stroke="#333" stroke-width="1.0"/>
<text x="211.00" y="256.11" font-size="8.5" text-anchor="end" fill="#111" stroke="#111" stroke-width="0.22">2000</text>
<line x1="212.20" y1="227.12" x2="215.70" y2="227.12" stroke="#333" stroke-width="1.0"/>
<text x="211.00" y="230.88" font-size="8.5" text-anchor="end" fill="#111" stroke="#111" stroke-width="0.22">3000</text>
<line x1="212.20" y1="201.90" x2="215.70" y2="201.90" stroke="#333" stroke-width="1.0"/>
<text x="211.00" y="205.66" font-size="8.5" text-anchor="end" fill="#111" stroke="#111" stroke-width="0.22">4000</text>
<text x="185.00" y="253.90" font-size="9.0" text-anchor="middle" transform="rotate(-90 185.00 253.90)" textLength="50.5" lengthAdjust="spacingAndGlyphs" fill="#111" stroke="#111" stroke-width="0.22">IFN-γ (pg/ml)</text>
<rect x="218.95" y="296.30" width="6.60" height="6.50" fill="#fff" stroke="#222" stroke-width="0.9"/>
<rect x="227.95" y="296.30" width="6.60" height="6.50" fill="#858585" stroke="#222" stroke-width="0.9"/>
<rect x="236.95" y="259.30" width="6.60" height="43.50" fill="url(#hatch)" stroke="#222" stroke-width="0.9"/>
<rect x="251.45" y="294.30" width="6.60" height="8.50" fill="#fff" stroke="#222" stroke-width="0.9"/>
<rect x="260.45" y="290.50" width="6.60" height="12.30" fill="#858585" stroke="#222" stroke-width="0.9"/>
<rect x="269.45" y="242.00" width="6.60" height="60.80" fill="url(#hatch)" stroke="#222" stroke-width="0.9"/>
<rect x="283.95" y="292.50" width="6.60" height="10.30" fill="#fff" stroke="#222" stroke-width="0.9"/>
<rect x="292.95" y="287.50" width="6.60" height="15.30" fill="#858585" stroke="#222" stroke-width="0.9"/>
<rect x="301.95" y="231.30" width="6.60" height="71.50" fill="url(#hatch)" stroke="#222" stroke-width="0.9"/>
<rect x="316.45" y="294.50" width="6.60" height="8.30" fill="#fff" stroke="#222" stroke-width="0.9"/>
<rect x="325.45" y="288.80" width="6.60" height="14.00" fill="#858585" stroke="#222" stroke-width="0.9"/>
<rect x="334.45" y="239.30" width="6.60" height="63.50" fill="url(#hatch)" stroke="#222" stroke-width="0.9"/>
<line x1="222.25" y1="292.50" x2="222.25" y2="296.30" stroke="#b56a76" stroke-width="0.85"/>
<line x1="222.25" y1="296.30" x2="222.25" y2="300.10" stroke="#b56a76" stroke-width="0.85" opacity="0.7"/>
<line x1="220.35" y1="292.50" x2="224.15" y2="292.50" stroke="#b56a76" stroke-width="0.85"/>
<line x1="231.25" y1="294.30" x2="231.25" y2="296.30" stroke="#b56a76" stroke-width="0.85"/>
<line x1="231.25" y1="296.30" x2="231.25" y2="298.30" stroke="#b56a76" stroke-width="0.85" opacity="0.7"/>
<line x1="229.35" y1="294.30" x2="233.15" y2="294.30" stroke="#b56a76" stroke-width="0.85"/>
<line x1="240.25" y1="249.50" x2="240.25" y2="259.30" stroke="#b56a76" stroke-width="0.85"/>
<line x1="240.25" y1="259.30" x2="240.25" y2="269.10" stroke="#b56a76" stroke-width="0.85" opacity="0.7"/>
<line x1="238.35" y1="249.50" x2="242.15" y2="249.50" stroke="#b56a76" stroke-width="0.85"/>
<line x1="254.75" y1="289.50" x2="254.75" y2="294.30" stroke="#b56a76" stroke-width="0.85"/>
<line x1="254.75" y1="294.30" x2="254.75" y2="299.10" stroke="#b56a76" stroke-width="0.85" opacity="0.7"/>
<line x1="252.85" y1="289.50" x2="256.65" y2="289.50" stroke="#b56a76" stroke-width="0.85"/>
<line x1="263.75" y1="287.50" x2="263.75" y2="290.50" stroke="#b56a76" stroke-width="0.85"/>
<line x1="263.75" y1="290.50" x2="263.75" y2="293.50" stroke="#b56a76" stroke-width="0.85" opacity="0.7"/>
<line x1="261.85" y1="287.50" x2="265.65" y2="287.50" stroke="#b56a76" stroke-width="0.85"/>
<line x1="272.75" y1="233.80" x2="272.75" y2="242.00" stroke="#b56a76" stroke-width="0.85"/>
<line x1="272.75" y1="242.00" x2="272.75" y2="250.20" stroke="#b56a76" stroke-width="0.85" opacity="0.7"/>
<line x1="270.85" y1="233.80" x2="274.65" y2="233.80" stroke="#b56a76" stroke-width="0.85"/>
<line x1="287.25" y1="287.00" x2="287.25" y2="292.50" stroke="#b56a76" stroke-width="0.85"/>
<line x1="287.25" y1="292.50" x2="287.25" y2="298.00" stroke="#b56a76" stroke-width="0.85" opacity="0.7"/>
<line x1="285.35" y1="287.00" x2="289.15" y2="287.00" stroke="#b56a76" stroke-width="0.85"/>
<line x1="296.25" y1="282.50" x2="296.25" y2="287.50" stroke="#b56a76" stroke-width="0.85"/>
<line x1="296.25" y1="287.50" x2="296.25" y2="292.50" stroke="#b56a76" stroke-width="0.85" opacity="0.7"/>
<line x1="294.35" y1="282.50" x2="298.15" y2="282.50" stroke="#b56a76" stroke-width="0.85"/>
<line x1="305.25" y1="222.00" x2="305.25" y2="231.30" stroke="#b56a76" stroke-width="0.85"/>
<line x1="305.25" y1="231.30" x2="305.25" y2="240.60" stroke="#b56a76" stroke-width="0.85" opacity="0.7"/>
<line x1="303.35" y1="222.00" x2="307.15" y2="222.00" stroke="#b56a76" stroke-width="0.85"/>
<line x1="319.75" y1="287.00" x2="319.75" y2="294.50" stroke="#b56a76" stroke-width="0.85"/>
<line x1="319.75" y1="294.50" x2="319.75" y2="302.00" stroke="#b56a76" stroke-width="0.85" opacity="0.7"/>
<line x1="317.85" y1="287.00" x2="321.65" y2="287.00" stroke="#b56a76" stroke-width="0.85"/>
<line x1="328.75" y1="280.00" x2="328.75" y2="288.80" stroke="#b56a76" stroke-width="0.85"/>
<line x1="328.75" y1="288.80" x2="328.75" y2="297.60" stroke="#b56a76" stroke-width="0.85" opacity="0.7"/>
<line x1="326.85" y1="280.00" x2="330.65" y2="280.00" stroke="#b56a76" stroke-width="0.85"/>
<line x1="337.75" y1="226.30" x2="337.75" y2="239.30" stroke="#b56a76" stroke-width="0.85"/>
<line x1="337.75" y1="239.30" x2="337.75" y2="252.30" stroke="#b56a76" stroke-width="0.85" opacity="0.7"/>
<line x1="335.85" y1="226.30" x2="339.65" y2="226.30" stroke="#b56a76" stroke-width="0.85"/>
<line x1="215.70" y1="302.80" x2="345.00" y2="302.80" stroke="#333" stroke-width="1.0"/>
<line x1="231.25" y1="302.80" x2="231.25" y2="305.80" stroke="#333" stroke-width="1.0"/>
<line x1="263.75" y1="302.80" x2="263.75" y2="305.80" stroke="#333" stroke-width="1.0"/>
<line x1="296.25" y1="302.80" x2="296.25" y2="305.80" stroke="#333" stroke-width="1.0"/>
<line x1="328.75" y1="302.80" x2="328.75" y2="305.80" stroke="#333" stroke-width="1.0"/>
<text x="231.25" y="316.30" font-size="8.9" text-anchor="middle" fill="#111" stroke="#111" stroke-width="0.22">DMSO</text>
<text x="263.75" y="316.30" font-size="8.9" text-anchor="middle" fill="#111" stroke="#111" stroke-width="0.22">0.1µM</text>
<text x="296.25" y="316.30" font-size="8.9" text-anchor="middle" fill="#111" stroke="#111" stroke-width="0.22">1.0µM</text>
<text x="328.75" y="316.30" font-size="8.9" text-anchor="middle" fill="#111" stroke="#111" stroke-width="0.22">10µM</text>
<rect x="199.60" y="169.10" width="16.20" height="3.80" fill="#fff" stroke="#222" stroke-width="0.9"/>
<text x="224.00" y="173.50" font-size="7.6" text-anchor="start" textLength="25.5" lengthAdjust="spacingAndGlyphs" fill="#111" stroke="#111" stroke-width="0.22">ICAM-1</text>
<rect x="199.60" y="178.70" width="16.20" height="3.80" fill="#858585" stroke="#222" stroke-width="0.9"/>
<text x="224.00" y="183.10" font-size="7.6" text-anchor="start" textLength="31.2" lengthAdjust="spacingAndGlyphs" fill="#111" stroke="#111" stroke-width="0.22">αNKG2D</text>
<rect x="199.60" y="188.40" width="16.20" height="3.80" fill="url(#hatch)" stroke="#222" stroke-width="0.9"/>
<text x="224.00" y="192.80" font-size="7.6" text-anchor="start" textLength="66.0" lengthAdjust="spacingAndGlyphs" fill="#111" stroke="#111" stroke-width="0.22">αNKG2D + ICAM-1</text>
<path d="M240.40 218.40 V215.40 H305.30 V218.40" stroke="#333" stroke-width="1.1" fill="none"/>
<path d="M272.40 209.13 L271.99 210.69 L270.44 210.27 L271.58 211.40 L270.44 212.53 L271.99 212.11 L272.40 213.67 L272.81 212.11 L274.36 212.53 L273.22 211.40 L274.36 210.27 L272.81 210.69 Z " fill="#1a1a1a" stroke="#1a1a1a" stroke-width="0.35" stroke-linejoin="round"/>
<text x="348.00" y="167.90" font-size="11" text-anchor="start" font-weight="bold" fill="#111" stroke="#111" stroke-width="0.35">F</text>
<line x1="385.70" y1="201.50" x2="385.70" y2="303.20" stroke="#333" stroke-width="1.0"/>
<line x1="382.20" y1="303.20" x2="385.70" y2="303.20" stroke="#333" stroke-width="1.0"/>
<text x="381.00" y="306.96" font-size="8.5" text-anchor="end" fill="#111" stroke="#111" stroke-width="0.22">0</text>
<line x1="382.20" y1="277.77" x2="385.70" y2="277.77" stroke="#333" stroke-width="1.0"/>
<text x="381.00" y="281.53" font-size="8.5" text-anchor="end" fill="#111" stroke="#111" stroke-width="0.22">2000</text>
<line x1="382.20" y1="252.35" x2="385.70" y2="252.35" stroke="#333" stroke-width="1.0"/>
<text x="381.00" y="256.11" font-size="8.5" text-anchor="end" fill="#111" stroke="#111" stroke-width="0.22">4000</text>
<line x1="382.20" y1="226.93" x2="385.70" y2="226.93" stroke="#333" stroke-width="1.0"/>
<text x="381.00" y="230.69" font-size="8.5" text-anchor="end" fill="#111" stroke="#111" stroke-width="0.22">6000</text>
<line x1="382.20" y1="201.50" x2="385.70" y2="201.50" stroke="#333" stroke-width="1.0"/>
<text x="381.00" y="205.26" font-size="8.5" text-anchor="end" fill="#111" stroke="#111" stroke-width="0.22">8000</text>
<text x="355.30" y="253.10" font-size="9.0" text-anchor="middle" transform="rotate(-90 355.30 253.10)" textLength="50.5" lengthAdjust="spacingAndGlyphs" fill="#111" stroke="#111" stroke-width="0.22">IFN-γ (pg/ml)</text>
<rect x="389.50" y="299.80" width="6.60" height="3.40" fill="#fff" stroke="#222" stroke-width="0.9"/>
<rect x="398.50" y="281.40" width="6.60" height="21.80" fill="#858585" stroke="#222" stroke-width="0.9"/>
<rect x="407.50" y="262.50" width="6.60" height="40.70" fill="url(#hatch)" stroke="#222" stroke-width="0.9"/>
<rect x="422.40" y="299.00" width="6.60" height="4.20" fill="#fff" stroke="#222" stroke-width="0.9"/>
<rect x="431.40" y="267.40" width="6.60" height="35.80" fill="#858585" stroke="#222" stroke-width="0.9"/>
<rect x="440.40" y="249.40" width="6.60" height="53.80" fill="url(#hatch)" stroke="#222" stroke-width="0.9"/>
<rect x="455.45" y="298.10" width="6.60" height="5.10" fill="#fff" stroke="#222" stroke-width="0.9"/>
<rect x="464.45" y="270.50" width="6.60" height="32.70" fill="#858585" stroke="#222" stroke-width="0.9"/>
<rect x="473.45" y="238.20" width="6.60" height="65.00" fill="url(#hatch)" stroke="#222" stroke-width="0.9"/>
<rect x="487.95" y="299.30" width="6.60" height="3.90" fill="#fff" stroke="#222" stroke-width="0.9"/>
<rect x="496.95" y="274.30" width="6.60" height="28.90" fill="#858585" stroke="#222" stroke-width="0.9"/>
<rect x="505.95" y="258.20" width="6.60" height="45.00" fill="url(#hatch)" stroke="#222" stroke-width="0.9"/>
<line x1="392.80" y1="296.50" x2="392.80" y2="299.80" stroke="#b56a76" stroke-width="0.85"/>
<line x1="392.80" y1="299.80" x2="392.80" y2="303.10" stroke="#b56a76" stroke-width="0.85" opacity="0.7"/>
<line x1="390.90" y1="296.50" x2="394.70" y2="296.50" stroke="#b56a76" stroke-width="0.85"/>
<line x1="401.80" y1="278.00" x2="401.80" y2="281.40" stroke="#b56a76" stroke-width="0.85"/>
<line x1="401.80" y1="281.40" x2="401.80" y2="284.80" stroke="#b56a76" stroke-width="0.85" opacity="0.7"/>
<line x1="399.90" y1="278.00" x2="403.70" y2="278.00" stroke="#b56a76" stroke-width="0.85"/>
<line x1="410.80" y1="256.00" x2="410.80" y2="262.50" stroke="#b56a76" stroke-width="0.85"/>
<line x1="410.80" y1="262.50" x2="410.80" y2="269.00" stroke="#b56a76" stroke-width="0.85" opacity="0.7"/>
<line x1="408.90" y1="256.00" x2="412.70" y2="256.00" stroke="#b56a76" stroke-width="0.85"/>
<line x1="425.70" y1="296.00" x2="425.70" y2="299.00" stroke="#b56a76" stroke-width="0.85"/>
<line x1="425.70" y1="299.00" x2="425.70" y2="302.00" stroke="#b56a76" stroke-width="0.85" opacity="0.7"/>
<line x1="423.80" y1="296.00" x2="427.60" y2="296.00" stroke="#b56a76" stroke-width="0.85"/>
<line x1="434.70" y1="261.20" x2="434.70" y2="267.40" stroke="#b56a76" stroke-width="0.85"/>
<line x1="434.70" y1="267.40" x2="434.70" y2="273.60" stroke="#b56a76" stroke-width="0.85" opacity="0.7"/>
<line x1="432.80" y1="261.20" x2="436.60" y2="261.20" stroke="#b56a76" stroke-width="0.85"/>
<line x1="443.70" y1="238.20" x2="443.70" y2="249.40" stroke="#b56a76" stroke-width="0.85"/>
<line x1="443.70" y1="249.40" x2="443.70" y2="260.60" stroke="#b56a76" stroke-width="0.85" opacity="0.7"/>
<line x1="441.80" y1="238.20" x2="445.60" y2="238.20" stroke="#b56a76" stroke-width="0.85"/>
<line x1="458.75" y1="295.30" x2="458.75" y2="298.10" stroke="#b56a76" stroke-width="0.85"/>
<line x1="458.75" y1="298.10" x2="458.75" y2="300.90" stroke="#b56a76" stroke-width="0.85" opacity="0.7"/>
<line x1="456.85" y1="295.30" x2="460.65" y2="295.30" stroke="#b56a76" stroke-width="0.85"/>
<line x1="467.75" y1="260.40" x2="467.75" y2="270.50" stroke="#b56a76" stroke-width="0.85"/>
<line x1="467.75" y1="270.50" x2="467.75" y2="280.60" stroke="#b56a76" stroke-width="0.85" opacity="0.7"/>
<line x1="465.85" y1="260.40" x2="469.65" y2="260.40" stroke="#b56a76" stroke-width="0.85"/>
<line x1="476.75" y1="224.50" x2="476.75" y2="238.20" stroke="#b56a76" stroke-width="0.85"/>
<line x1="476.75" y1="238.20" x2="476.75" y2="251.90" stroke="#b56a76" stroke-width="0.85" opacity="0.7"/>
<line x1="474.85" y1="224.50" x2="478.65" y2="224.50" stroke="#b56a76" stroke-width="0.85"/>
<line x1="491.25" y1="295.30" x2="491.25" y2="299.30" stroke="#b56a76" stroke-width="0.85"/>
<line x1="491.25" y1="299.30" x2="491.25" y2="303.20" stroke="#b56a76" stroke-width="0.85" opacity="0.7"/>
<line x1="489.35" y1="295.30" x2="493.15" y2="295.30" stroke="#b56a76" stroke-width="0.85"/>
<line x1="500.25" y1="268.60" x2="500.25" y2="274.30" stroke="#b56a76" stroke-width="0.85"/>
<line x1="500.25" y1="274.30" x2="500.25" y2="280.00" stroke="#b56a76" stroke-width="0.85" opacity="0.7"/>
<line x1="498.35" y1="268.60" x2="502.15" y2="268.60" stroke="#b56a76" stroke-width="0.85"/>
<line x1="509.25" y1="245.70" x2="509.25" y2="258.20" stroke="#b56a76" stroke-width="0.85"/>
<line x1="509.25" y1="258.20" x2="509.25" y2="270.70" stroke="#b56a76" stroke-width="0.85" opacity="0.7"/>
<line x1="507.35" y1="245.70" x2="511.15" y2="245.70" stroke="#b56a76" stroke-width="0.85"/>
<line x1="385.70" y1="303.20" x2="517.00" y2="303.20" stroke="#333" stroke-width="1.0"/>
<line x1="401.80" y1="303.20" x2="401.80" y2="306.20" stroke="#333" stroke-width="1.0"/>
<line x1="434.70" y1="303.20" x2="434.70" y2="306.20" stroke="#333" stroke-width="1.0"/>
<line x1="467.75" y1="303.20" x2="467.75" y2="306.20" stroke="#333" stroke-width="1.0"/>
<line x1="500.25" y1="303.20" x2="500.25" y2="306.20" stroke="#333" stroke-width="1.0"/>
<text x="401.80" y="316.30" font-size="8.9" text-anchor="middle" fill="#111" stroke="#111" stroke-width="0.22">DMSO</text>
<text x="434.70" y="316.30" font-size="8.9" text-anchor="middle" fill="#111" stroke="#111" stroke-width="0.22">0.1µM</text>
<text x="467.75" y="316.30" font-size="8.9" text-anchor="middle" fill="#111" stroke="#111" stroke-width="0.22">1.0µM</text>
<text x="500.25" y="316.30" font-size="8.9" text-anchor="middle" fill="#111" stroke="#111" stroke-width="0.22">10µM</text>
<rect x="377.90" y="167.00" width="16.00" height="3.80" fill="#fff" stroke="#222" stroke-width="0.9"/>
<text x="403.00" y="171.40" font-size="7.6" text-anchor="start" textLength="25.6" lengthAdjust="spacingAndGlyphs" fill="#111" stroke="#111" stroke-width="0.22">ICAM-1</text>
<rect x="377.90" y="177.00" width="16.00" height="3.80" fill="#858585" stroke="#222" stroke-width="0.9"/>
<text x="403.00" y="181.40" font-size="7.6" text-anchor="start" textLength="19.5" lengthAdjust="spacingAndGlyphs" fill="#111" stroke="#111" stroke-width="0.22">MICA</text>
<rect x="377.90" y="186.80" width="16.00" height="3.80" fill="url(#hatch)" stroke="#222" stroke-width="0.9"/>
<text x="403.00" y="191.20" font-size="7.6" text-anchor="start" textLength="53.3" lengthAdjust="spacingAndGlyphs" fill="#111" stroke="#111" stroke-width="0.22">MICA + ICAM-1</text>
<path d="M410.00 219.90 V216.80 H476.50 V219.90" stroke="#333" stroke-width="1.1" fill="none"/>
<path d="M410.00 231.90 V228.80 H443.80 V231.90" stroke="#333" stroke-width="1.1" fill="none"/>
<path d="M475.70 213.40 V209.80 H510.30 V213.40" stroke="#333" stroke-width="1.1" fill="none"/>
<path d="M424.00 209.50 L423.51 211.36 L421.66 210.85 L423.03 212.20 L421.66 213.55 L423.51 213.04 L424.00 214.90 L424.49 213.04 L426.34 213.55 L424.97 212.20 L426.34 210.85 L424.49 211.36 Z M431.40 209.50 L430.91 211.36 L429.06 210.85 L430.43 212.20 L429.06 213.55 L430.91 213.04 L431.40 214.90 L431.89 213.04 L433.74 213.55 L432.37 212.20 L433.74 210.85 L431.89 211.36 Z " fill="#1a1a1a" stroke="#1a1a1a" stroke-width="0.35" stroke-linejoin="round"/>
<path d="M427.40 221.50 L426.91 223.36 L425.06 222.85 L426.43 224.20 L425.06 225.55 L426.91 225.04 L427.40 226.90 L427.89 225.04 L429.74 225.55 L428.37 224.20 L429.74 222.85 L427.89 223.36 Z " fill="#1a1a1a" stroke="#1a1a1a" stroke-width="0.35" stroke-linejoin="round"/>
<path d="M489.60 202.90 L489.11 204.76 L487.26 204.25 L488.63 205.60 L487.26 206.95 L489.11 206.44 L489.60 208.30 L490.09 206.44 L491.94 206.95 L490.57 205.60 L491.94 204.25 L490.09 204.76 Z M496.60 202.90 L496.11 204.76 L494.26 204.25 L495.63 205.60 L494.26 206.95 L496.11 206.44 L496.60 208.30 L497.09 206.44 L498.94 206.95 L497.57 205.60 L498.94 204.25 L497.09 204.76 Z " fill="#1a1a1a" stroke="#1a1a1a" stroke-width="0.35" stroke-linejoin="round"/>
<text x="1.60" y="344.50" font-size="11" text-anchor="start" font-weight="bold" fill="#111" stroke="#111" stroke-width="0.35">G</text>
<line x1="42.00" y1="365.50" x2="42.00" y2="468.20" stroke="#333" stroke-width="1.0"/>
<line x1="38.50" y1="468.20" x2="42.00" y2="468.20" stroke="#333" stroke-width="1.0"/>
<text x="37.30" y="471.96" font-size="8.5" text-anchor="end" fill="#111" stroke="#111" stroke-width="0.22">0</text>
<line x1="38.50" y1="433.97" x2="42.00" y2="433.97" stroke="#333" stroke-width="1.0"/>
<text x="37.30" y="437.73" font-size="8.5" text-anchor="end" fill="#111" stroke="#111" stroke-width="0.22">5000</text>
<line x1="38.50" y1="399.73" x2="42.00" y2="399.73" stroke="#333" stroke-width="1.0"/>
<text x="37.30" y="403.49" font-size="8.5" text-anchor="end" fill="#111" stroke="#111" stroke-width="0.22">10000</text>
<line x1="38.50" y1="365.50" x2="42.00" y2="365.50" stroke="#333" stroke-width="1.0"/>
<text x="37.30" y="369.26" font-size="8.5" text-anchor="end" fill="#111" stroke="#111" stroke-width="0.22">15000</text>
<text x="8.80" y="417.80" font-size="9.0" text-anchor="middle" transform="rotate(-90 8.80 417.80)" textLength="50.8" lengthAdjust="spacingAndGlyphs" fill="#111" stroke="#111" stroke-width="0.22">IFN-γ (pg/ml)</text>
<rect x="46.50" y="467.00" width="6.60" height="1.20" fill="#fff" stroke="#222" stroke-width="0.9"/>
<rect x="55.50" y="466.80" width="6.60" height="1.40" fill="#858585" stroke="#222" stroke-width="0.9"/>
<rect x="64.50" y="423.10" width="6.60" height="45.10" fill="url(#hatch)" stroke="#222" stroke-width="0.9"/>
<rect x="79.40" y="466.50" width="6.60" height="1.70" fill="#fff" stroke="#222" stroke-width="0.9"/>
<rect x="88.40" y="466.00" width="6.60" height="2.20" fill="#858585" stroke="#222" stroke-width="0.9"/>
<rect x="97.40" y="410.40" width="6.60" height="57.80" fill="url(#hatch)" stroke="#222" stroke-width="0.9"/>
<rect x="112.30" y="465.50" width="6.60" height="2.70" fill="#fff" stroke="#222" stroke-width="0.9"/>
<rect x="121.30" y="465.50" width="6.60" height="2.70" fill="#858585" stroke="#222" stroke-width="0.9"/>
<rect x="130.30" y="394.40" width="6.60" height="73.80" fill="url(#hatch)" stroke="#222" stroke-width="0.9"/>
<rect x="145.20" y="466.00" width="6.60" height="2.20" fill="#fff" stroke="#222" stroke-width="0.9"/>
<rect x="154.20" y="466.00" width="6.60" height="2.20" fill="#858585" stroke="#222" stroke-width="0.9"/>
<rect x="163.20" y="393.20" width="6.60" height="75.00" fill="url(#hatch)" stroke="#222" stroke-width="0.9"/>
<line x1="58.80" y1="466.00" x2="58.80" y2="466.80" stroke="#b56a76" stroke-width="0.85"/>
<line x1="58.80" y1="466.80" x2="58.80" y2="467.60" stroke="#b56a76" stroke-width="0.85" opacity="0.7"/>
<line x1="56.90" y1="466.00" x2="60.70" y2="466.00" stroke="#b56a76" stroke-width="0.85"/>
<line x1="67.80" y1="416.90" x2="67.80" y2="423.10" stroke="#b56a76" stroke-width="0.85"/>
<line x1="67.80" y1="423.10" x2="67.80" y2="429.30" stroke="#b56a76" stroke-width="0.85" opacity="0.7"/>
<line x1="65.90" y1="416.90" x2="69.70" y2="416.90" stroke="#b56a76" stroke-width="0.85"/>
<line x1="82.70" y1="466.00" x2="82.70" y2="466.50" stroke="#b56a76" stroke-width="0.85"/>
<line x1="82.70" y1="466.50" x2="82.70" y2="467.00" stroke="#b56a76" stroke-width="0.85" opacity="0.7"/>
<line x1="80.80" y1="466.00" x2="84.60" y2="466.00" stroke="#b56a76" stroke-width="0.85"/>
<line x1="91.70" y1="465.00" x2="91.70" y2="466.00" stroke="#b56a76" stroke-width="0.85"/>
<line x1="91.70" y1="466.00" x2="91.70" y2="467.00" stroke="#b56a76" stroke-width="0.85" opacity="0.7"/>
<line x1="89.80" y1="465.00" x2="93.60" y2="465.00" stroke="#b56a76" stroke-width="0.85"/>
<line x1="100.70" y1="406.30" x2="100.70" y2="410.40" stroke="#b56a76" stroke-width="0.85"/>
<line x1="100.70" y1="410.40" x2="100.70" y2="414.50" stroke="#b56a76" stroke-width="0.85" opacity="0.7"/>
<line x1="98.80" y1="406.30" x2="102.60" y2="406.30" stroke="#b56a76" stroke-width="0.85"/>
<line x1="115.60" y1="465.00" x2="115.60" y2="465.50" stroke="#b56a76" stroke-width="0.85"/>
<line x1="115.60" y1="465.50" x2="115.60" y2="466.00" stroke="#b56a76" stroke-width="0.85" opacity="0.7"/>
<line x1="113.70" y1="465.00" x2="117.50" y2="465.00" stroke="#b56a76" stroke-width="0.85"/>
<line x1="124.60" y1="464.50" x2="124.60" y2="465.50" stroke="#b56a76" stroke-width="0.85"/>
<line x1="124.60" y1="465.50" x2="124.60" y2="466.50" stroke="#b56a76" stroke-width="0.85" opacity="0.7"/>
<line x1="122.70" y1="464.50" x2="126.50" y2="464.50" stroke="#b56a76" stroke-width="0.85"/>
<line x1="133.60" y1="391.20" x2="133.60" y2="394.40" stroke="#b56a76" stroke-width="0.85"/>
<line x1="133.60" y1="394.40" x2="133.60" y2="397.60" stroke="#b56a76" stroke-width="0.85" opacity="0.7"/>
<line x1="131.70" y1="391.20" x2="135.50" y2="391.20" stroke="#b56a76" stroke-width="0.85"/>
<line x1="148.50" y1="465.00" x2="148.50" y2="466.00" stroke="#b56a76" stroke-width="0.85"/>
<line x1="148.50" y1="466.00" x2="148.50" y2="467.00" stroke="#b56a76" stroke-width="0.85" opacity="0.7"/>
<line x1="146.60" y1="465.00" x2="150.40" y2="465.00" stroke="#b56a76" stroke-width="0.85"/>
<line x1="157.50" y1="465.00" x2="157.50" y2="466.00" stroke="#b56a76" stroke-width="0.85"/>
<line x1="157.50" y1="466.00" x2="157.50" y2="467.00" stroke="#b56a76" stroke-width="0.85" opacity="0.7"/>
<line x1="155.60" y1="465.00" x2="159.40" y2="465.00" stroke="#b56a76" stroke-width="0.85"/>
<line x1="166.50" y1="390.70" x2="166.50" y2="393.20" stroke="#b56a76" stroke-width="0.85"/>
<line x1="166.50" y1="393.20" x2="166.50" y2="395.70" stroke="#b56a76" stroke-width="0.85" opacity="0.7"/>
<line x1="164.60" y1="390.70" x2="168.40" y2="390.70" stroke="#b56a76" stroke-width="0.85"/>
<line x1="42.00" y1="468.20" x2="174.00" y2="468.20" stroke="#333" stroke-width="1.0"/>
<line x1="58.80" y1="468.20" x2="58.80" y2="471.20" stroke="#333" stroke-width="1.0"/>
<line x1="91.70" y1="468.20" x2="91.70" y2="471.20" stroke="#333" stroke-width="1.0"/>
<line x1="124.60" y1="468.20" x2="124.60" y2="471.20" stroke="#333" stroke-width="1.0"/>
<line x1="157.50" y1="468.20" x2="157.50" y2="471.20" stroke="#333" stroke-width="1.0"/>
<text x="58.80" y="481.80" font-size="8.9" text-anchor="middle" fill="#111" stroke="#111" stroke-width="0.22">DMSO</text>
<text x="91.70" y="481.80" font-size="8.9" text-anchor="middle" fill="#111" stroke="#111" stroke-width="0.22">0.1µM</text>
<text x="124.60" y="481.80" font-size="8.9" text-anchor="middle" fill="#111" stroke="#111" stroke-width="0.22">1.0µM</text>
<text x="157.50" y="481.80" font-size="8.9" text-anchor="middle" fill="#111" stroke="#111" stroke-width="0.22">10µM</text>
<rect x="42.00" y="334.40" width="16.30" height="3.20" fill="#fff" stroke="#222" stroke-width="0.9"/>
<text x="67.60" y="338.50" font-size="7.6" text-anchor="start" textLength="29.8" lengthAdjust="spacingAndGlyphs" fill="#111" stroke="#111" stroke-width="0.22">αNKG2D</text>
<rect x="42.00" y="344.60" width="16.30" height="3.20" fill="#858585" stroke="#222" stroke-width="0.9"/>
<text x="67.60" y="348.70" font-size="7.6" text-anchor="start" textLength="18.6" lengthAdjust="spacingAndGlyphs" fill="#111" stroke="#111" stroke-width="0.22">α2B4</text>
<rect x="42.00" y="354.60" width="16.30" height="3.20" fill="url(#hatch)" stroke="#222" stroke-width="0.9"/>
<text x="67.60" y="358.70" font-size="7.6" text-anchor="start" textLength="57.3" lengthAdjust="spacingAndGlyphs" fill="#111" stroke="#111" stroke-width="0.22">αNKG2D + α2B4</text>
<path d="M66.30 375.90 V372.70 H165.80 V375.90" stroke="#333" stroke-width="1.1" fill="none"/>
<path d="M66.30 387.10 V383.70 H133.40 V387.10" stroke="#333" stroke-width="1.1" fill="none"/>
<path d="M100.20 366.23 L99.79 367.79 L98.24 367.37 L99.38 368.50 L98.24 369.63 L99.79 369.21 L100.20 370.77 L100.61 369.21 L102.16 369.63 L101.02 368.50 L102.16 367.37 L100.61 367.79 Z " fill="#1a1a1a" stroke="#1a1a1a" stroke-width="0.35" stroke-linejoin="round"/>
<path d="M100.20 377.83 L99.79 379.39 L98.24 378.97 L99.38 380.10 L98.24 381.23 L99.79 380.81 L100.20 382.37 L100.61 380.81 L102.16 381.23 L101.02 380.10 L102.16 378.97 L100.61 379.39 Z " fill="#1a1a1a" stroke="#1a1a1a" stroke-width="0.35" stroke-linejoin="round"/>
<text x="175.40" y="343.90" font-size="11" text-anchor="start" font-weight="bold" fill="#111" stroke="#111" stroke-width="0.35">H</text>
<line x1="216.20" y1="367.00" x2="216.20" y2="469.30" stroke="#333" stroke-width="1.0"/>
<line x1="212.70" y1="469.30" x2="216.20" y2="469.30" stroke="#333" stroke-width="1.0"/>
<text x="211.50" y="472.36" font-size="8.5" text-anchor="end" fill="#111" stroke="#111" stroke-width="0.22">0</text>
<line x1="212.70" y1="435.20" x2="216.20" y2="435.20" stroke="#333" stroke-width="1.0"/>
<text x="211.50" y="438.26" font-size="8.5" text-anchor="end" fill="#111" stroke="#111" stroke-width="0.22">10</text>
<line x1="212.70" y1="401.10" x2="216.20" y2="401.10" stroke="#333" stroke-width="1.0"/>
<text x="211.50" y="404.16" font-size="8.5" text-anchor="end" fill="#111" stroke="#111" stroke-width="0.22">20</text>
<line x1="212.70" y1="367.00" x2="216.20" y2="367.00" stroke="#333" stroke-width="1.0"/>
<text x="211.50" y="370.06" font-size="8.5" text-anchor="end" fill="#111" stroke="#111" stroke-width="0.22">30</text>
<line x1="216.20" y1="469.30" x2="349.40" y2="469.30" stroke="#333" stroke-width="1.0"/>
<line x1="249.50" y1="469.30" x2="249.50" y2="472.30" stroke="#333" stroke-width="1.0"/>
<line x1="316.50" y1="469.30" x2="316.50" y2="472.30" stroke="#333" stroke-width="1.0"/>
<text x="249.50" y="483.70" font-size="9.0" text-anchor="middle" fill="#111" stroke="#111" stroke-width="0.22">DMSO</text>
<text x="316.50" y="483.70" font-size="9.0" text-anchor="middle" fill="#111" stroke="#111" stroke-width="0.22">1 µM len</text>
<text x="198.60" y="419.75" font-size="9.0" text-anchor="middle" transform="rotate(-90 198.60 419.75)" textLength="114.5" lengthAdjust="spacingAndGlyphs" fill="#111" stroke="#111" stroke-width="0.22">IFN-γ mRNA (Fold Change)</text>
<path d="M211.70 341.35 L213.60 344.77 L209.80 344.77 Z" fill="#fff" stroke="#333" stroke-width="0.7"/>
<circle cx="211.70" cy="353.50" r="1.9" fill="#fff" stroke="#333" stroke-width="0.8"/>
<text x="228.80" y="345.30" font-size="7.6" text-anchor="start" textLength="25.4" lengthAdjust="spacingAndGlyphs" fill="#111" stroke="#111" stroke-width="0.22">Isotype</text>
<text x="228.80" y="354.60" font-size="7.6" text-anchor="start" textLength="24.1" lengthAdjust="spacingAndGlyphs" fill="#111" stroke="#111" stroke-width="0.22">αCD16</text>
<line x1="262.10" y1="360.00" x2="328.20" y2="360.00" stroke="#444" stroke-width="1.0"/>
<text x="295.40" y="357.80" font-size="7.5" text-anchor="middle" fill="#111" stroke="#111" stroke-width="0.22">n s</text>
<path d="M256.00 380.40 L255.51 382.26 L253.66 381.75 L255.03 383.10 L253.66 384.45 L255.51 383.94 L256.00 385.80 L256.49 383.94 L258.34 384.45 L256.97 383.10 L258.34 381.75 L256.49 382.26 Z M262.50 380.40 L262.01 382.26 L260.16 381.75 L261.53 383.10 L260.16 384.45 L262.01 383.94 L262.50 385.80 L262.99 383.94 L264.84 384.45 L263.47 383.10 L264.84 381.75 L262.99 382.26 Z M269.00 380.40 L268.51 382.26 L266.66 381.75 L268.03 383.10 L266.66 384.45 L268.51 383.94 L269.00 385.80 L269.49 383.94 L271.34 384.45 L269.97 383.10 L271.34 381.75 L269.49 382.26 Z " fill="#1a1a1a" stroke="#1a1a1a" stroke-width="0.35" stroke-linejoin="round"/>
<path d="M322.25 365.30 L321.76 367.16 L319.91 366.65 L321.28 368.00 L319.91 369.35 L321.76 368.84 L322.25 370.70 L322.74 368.84 L324.59 369.35 L323.22 368.00 L324.59 366.65 L322.74 367.16 Z M328.75 365.30 L328.26 367.16 L326.41 366.65 L327.78 368.00 L326.41 369.35 L328.26 368.84 L328.75 370.70 L329.24 368.84 L331.09 369.35 L329.72 368.00 L331.09 366.65 L329.24 367.16 Z M335.25 365.30 L334.76 367.16 L332.91 366.65 L334.28 368.00 L332.91 369.35 L334.76 368.84 L335.25 370.70 L335.74 368.84 L337.59 369.35 L336.22 368.00 L337.59 366.65 L335.74 367.16 Z " fill="#1a1a1a" stroke="#1a1a1a" stroke-width="0.35" stroke-linejoin="round"/>
<path d="M231.50 464.84 L233.50 468.44 L229.50 468.44 Z" fill="#5a5a5a" stroke="#1a1a1a" stroke-width="0.8"/>
<path d="M235.50 464.34 L237.50 467.94 L233.50 467.94 Z" fill="#5a5a5a" stroke="#1a1a1a" stroke-width="0.8"/>
<path d="M239.50 464.84 L241.50 468.44 L237.50 468.44 Z" fill="#5a5a5a" stroke="#1a1a1a" stroke-width="0.8"/>
<path d="M242.50 464.44 L244.50 468.04 L240.50 468.04 Z" fill="#5a5a5a" stroke="#1a1a1a" stroke-width="0.8"/>
<path d="M300.30 465.24 L302.30 468.84 L298.30 468.84 Z" fill="#d9cbcd" stroke="#4a4a4a" stroke-width="0.8"/>
<path d="M304.60 465.24 L306.60 468.84 L302.60 468.84 Z" fill="#d9cbcd" stroke="#4a4a4a" stroke-width="0.8"/>
<path d="M308.90 465.24 L310.90 468.84 L306.90 468.84 Z" fill="#d9cbcd" stroke="#4a4a4a" stroke-width="0.8"/>
<path d="M298.70 456.53 L300.80 460.31 L296.60 460.31 Z" fill="#111" stroke="#111" stroke-width="0.5"/>
<path d="M303.80 456.53 L305.90 460.31 L301.70 460.31 Z" fill="#111" stroke="#111" stroke-width="0.5"/>
<path d="M308.80 456.53 L310.90 460.31 L306.70 460.31 Z" fill="#111" stroke="#111" stroke-width="0.5"/>
<circle cx="258.80" cy="437.40" r="2.0" fill="#fff" stroke="#444" stroke-width="0.8"/>
<circle cx="269.20" cy="436.10" r="2.0" fill="#fff" stroke="#444" stroke-width="0.8"/>
<circle cx="259.90" cy="443.50" r="2.0" fill="#fff" stroke="#444" stroke-width="0.8"/>
<circle cx="325.10" cy="441.50" r="2.0" fill="#fff" stroke="#444" stroke-width="0.8"/>
<circle cx="326.50" cy="443.00" r="2.0" fill="#fff" stroke="#444" stroke-width="0.8"/>
<circle cx="331.20" cy="442.40" r="2.0" fill="#fff" stroke="#444" stroke-width="0.8"/>
<circle cx="255.10" cy="435.80" r="2.0" fill="#999" stroke="#444" stroke-width="0.8"/>
<circle cx="263.50" cy="438.00" r="2.0" fill="#999" stroke="#444" stroke-width="0.8"/>
<circle cx="265.50" cy="436.80" r="2.0" fill="#999" stroke="#444" stroke-width="0.8"/>
<circle cx="322.10" cy="436.10" r="2.0" fill="#999" stroke="#444" stroke-width="0.8"/>
<circle cx="332.20" cy="437.10" r="2.0" fill="#999" stroke="#444" stroke-width="0.8"/>
<circle cx="335.60" cy="436.40" r="2.0" fill="#999" stroke="#444" stroke-width="0.8"/>
<circle cx="257.00" cy="394.50" r="2.3" fill="#111" stroke="#111" stroke-width="0.4"/>
<circle cx="262.00" cy="396.50" r="2.3" fill="#111" stroke="#111" stroke-width="0.4"/>
<circle cx="267.00" cy="396.25" r="2.3" fill="#111" stroke="#111" stroke-width="0.4"/>
<circle cx="323.00" cy="376.25" r="2.3" fill="#111" stroke="#111" stroke-width="0.4"/>
<circle cx="328.75" cy="381.75" r="2.3" fill="#111" stroke="#111" stroke-width="0.4"/>
<circle cx="333.75" cy="380.75" r="2.3" fill="#111" stroke="#111" stroke-width="0.4"/>
<line x1="253.75" y1="423.75" x2="270.50" y2="423.75" stroke="#c8343a" stroke-width="1.5"/>
<line x1="320.00" y1="419.50" x2="337.00" y2="419.50" stroke="#c8343a" stroke-width="1.5"/>
<line x1="228.50" y1="466.30" x2="245.00" y2="466.30" stroke="#c8343a" stroke-width="1.5"/>
<line x1="296.00" y1="463.85" x2="312.00" y2="463.85" stroke="#c8343a" stroke-width="1.5"/>
<text x="347.60" y="343.90" font-size="11" text-anchor="start" font-weight="bold" fill="#111" stroke="#111" stroke-width="0.35">I</text>
<line x1="385.50" y1="367.40" x2="385.50" y2="469.60" stroke="#333" stroke-width="1.0"/>
<line x1="382.00" y1="469.60" x2="385.50" y2="469.60" stroke="#333" stroke-width="1.0"/>
<text x="380.80" y="472.66" font-size="8.5" text-anchor="end" fill="#111" stroke="#111" stroke-width="0.22">0</text>
<line x1="382.00" y1="435.53" x2="385.50" y2="435.53" stroke="#333" stroke-width="1.0"/>
<text x="380.80" y="438.59" font-size="8.5" text-anchor="end" fill="#111" stroke="#111" stroke-width="0.22">5</text>
<line x1="382.00" y1="401.47" x2="385.50" y2="401.47" stroke="#333" stroke-width="1.0"/>
<text x="380.80" y="404.53" font-size="8.5" text-anchor="end" fill="#111" stroke="#111" stroke-width="0.22">10</text>
<line x1="382.00" y1="367.40" x2="385.50" y2="367.40" stroke="#333" stroke-width="1.0"/>
<text x="380.80" y="370.46" font-size="8.5" text-anchor="end" fill="#111" stroke="#111" stroke-width="0.22">15</text>
<line x1="385.50" y1="469.60" x2="518.70" y2="469.60" stroke="#333" stroke-width="1.0"/>
<line x1="418.50" y1="469.60" x2="418.50" y2="472.60" stroke="#333" stroke-width="1.0"/>
<line x1="485.60" y1="469.60" x2="485.60" y2="472.60" stroke="#333" stroke-width="1.0"/>
<text x="418.50" y="483.70" font-size="9.0" text-anchor="middle" fill="#111" stroke="#111" stroke-width="0.22">DMSO</text>
<text x="485.60" y="483.70" font-size="9.0" text-anchor="middle" fill="#111" stroke="#111" stroke-width="0.22">1 µM len</text>
<text x="367.20" y="420.50" font-size="9.0" text-anchor="middle" transform="rotate(-90 367.20 420.50)" textLength="114.5" lengthAdjust="spacingAndGlyphs" fill="#111" stroke="#111" stroke-width="0.22">IFN-γ mRNA (Fold Change)</text>
<path d="M381.20 339.15 L383.10 342.57 L379.30 342.57 Z" fill="#fff" stroke="#333" stroke-width="0.7"/>
<circle cx="381.20" cy="350.10" r="1.9" fill="#fff" stroke="#333" stroke-width="0.8"/>
<text x="398.80" y="343.30" font-size="7.6" text-anchor="start" textLength="24.1" lengthAdjust="spacingAndGlyphs" fill="#111" stroke="#111" stroke-width="0.22">ICAM-1</text>
<text x="398.80" y="352.40" font-size="7.6" text-anchor="start" textLength="52.0" lengthAdjust="spacingAndGlyphs" fill="#111" stroke="#111" stroke-width="0.22">MICA + ICAM-1</text>
<line x1="431.40" y1="363.20" x2="497.70" y2="363.20" stroke="#444" stroke-width="1.0"/>
<text x="464.30" y="360.40" font-size="7.5" text-anchor="middle" fill="#111" stroke="#111" stroke-width="0.22">n s</text>
<path d="M424.70 368.55 L424.21 370.41 L422.36 369.90 L423.73 371.25 L422.36 372.60 L424.21 372.09 L424.70 373.95 L425.19 372.09 L427.04 372.60 L425.67 371.25 L427.04 369.90 L425.19 370.41 Z M431.00 368.55 L430.51 370.41 L428.66 369.90 L430.03 371.25 L428.66 372.60 L430.51 372.09 L431.00 373.95 L431.49 372.09 L433.34 372.60 L431.97 371.25 L433.34 369.90 L431.49 370.41 Z M437.30 368.55 L436.81 370.41 L434.96 369.90 L436.33 371.25 L434.96 372.60 L436.81 372.09 L437.30 373.95 L437.79 372.09 L439.64 372.60 L438.27 371.25 L439.64 369.90 L437.79 370.41 Z " fill="#1a1a1a" stroke="#1a1a1a" stroke-width="0.35" stroke-linejoin="round"/>
<path d="M491.45 376.55 L490.96 378.41 L489.11 377.90 L490.48 379.25 L489.11 380.60 L490.96 380.09 L491.45 381.95 L491.94 380.09 L493.79 380.60 L492.42 379.25 L493.79 377.90 L491.94 378.41 Z M497.75 376.55 L497.26 378.41 L495.41 377.90 L496.78 379.25 L495.41 380.60 L497.26 380.09 L497.75 381.95 L498.24 380.09 L500.09 380.60 L498.72 379.25 L500.09 377.90 L498.24 378.41 Z M504.05 376.55 L503.56 378.41 L501.71 377.90 L503.08 379.25 L501.71 380.60 L503.56 380.09 L504.05 381.95 L504.54 380.09 L506.39 380.60 L505.02 379.25 L506.39 377.90 L504.54 378.41 Z " fill="#1a1a1a" stroke="#1a1a1a" stroke-width="0.35" stroke-linejoin="round"/>
<path d="M402.00 461.84 L404.00 465.44 L400.00 465.44 Z" fill="#5a5a5a" stroke="#1a1a1a" stroke-width="0.8"/>
<path d="M406.50 461.34 L408.50 464.94 L404.50 464.94 Z" fill="#5a5a5a" stroke="#1a1a1a" stroke-width="0.8"/>
<path d="M411.00 462.04 L413.00 465.64 L409.00 465.64 Z" fill="#5a5a5a" stroke="#1a1a1a" stroke-width="0.8"/>
<path d="M468.50 461.84 L470.50 465.44 L466.50 465.44 Z" fill="#5a5a5a" stroke="#1a1a1a" stroke-width="0.8"/>
<path d="M473.00 461.14 L475.00 464.74 L471.00 464.74 Z" fill="#5a5a5a" stroke="#1a1a1a" stroke-width="0.8"/>
<path d="M477.50 462.04 L479.50 465.64 L475.50 465.64 Z" fill="#5a5a5a" stroke="#1a1a1a" stroke-width="0.8"/>
<circle cx="426.25" cy="445.75" r="2.0" fill="#999" stroke="#444" stroke-width="0.8"/>
<circle cx="431.25" cy="445.75" r="2.0" fill="#999" stroke="#444" stroke-width="0.8"/>
<circle cx="436.25" cy="445.75" r="2.0" fill="#999" stroke="#444" stroke-width="0.8"/>
<circle cx="493.00" cy="443.00" r="2.0" fill="#999" stroke="#444" stroke-width="0.8"/>
<circle cx="498.00" cy="444.00" r="2.0" fill="#999" stroke="#444" stroke-width="0.8"/>
<circle cx="503.00" cy="443.40" r="2.0" fill="#999" stroke="#444" stroke-width="0.8"/>
<circle cx="431.25" cy="378.75" r="2.3" fill="#111" stroke="#111" stroke-width="0.4"/>
<circle cx="428.00" cy="384.25" r="2.3" fill="#111" stroke="#111" stroke-width="0.4"/>
<circle cx="434.50" cy="389.25" r="2.3" fill="#111" stroke="#111" stroke-width="0.4"/>
<circle cx="493.00" cy="389.25" r="2.3" fill="#111" stroke="#111" stroke-width="0.4"/>
<circle cx="498.00" cy="392.50" r="2.3" fill="#111" stroke="#111" stroke-width="0.4"/>
<circle cx="503.00" cy="388.75" r="2.3" fill="#111" stroke="#111" stroke-width="0.4"/>
<line x1="423.00" y1="414.50" x2="439.50" y2="414.50" stroke="#c8343a" stroke-width="1.5"/>
<line x1="489.50" y1="416.50" x2="506.25" y2="416.50" stroke="#c8343a" stroke-width="1.5"/>
<line x1="398.50" y1="463.60" x2="414.90" y2="463.60" stroke="#c8343a" stroke-width="1.5"/>
<line x1="464.20" y1="463.60" x2="481.60" y2="463.60" stroke="#c8343a" stroke-width="1.5"/>
</svg>
</body></html>
